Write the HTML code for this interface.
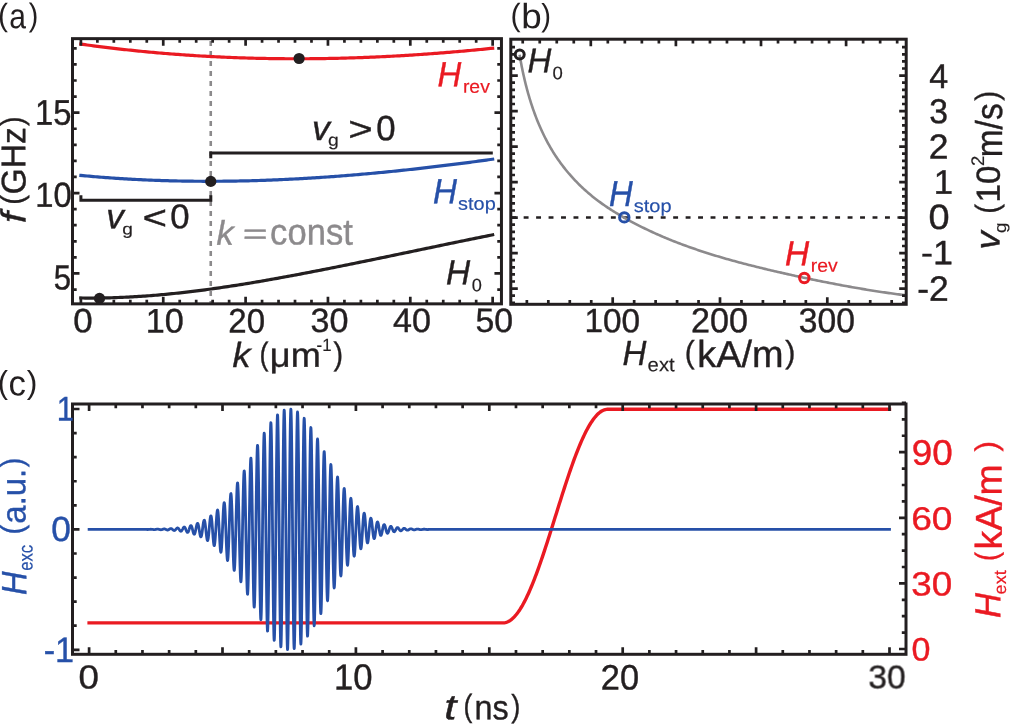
<!DOCTYPE html>
<html><head><meta charset="utf-8"><title>figure</title>
<style>html,body{margin:0;padding:0;background:#fff;width:1011px;height:724px;overflow:hidden;font-family:"Liberation Sans",sans-serif}</style>
</head><body>
<svg width="1011" height="724" viewBox="0 0 1011 724" style="position:absolute;left:0;top:0">
<rect width="1011" height="724" fill="#fff"/>
<line x1="210.75" y1="38.65" x2="210.75" y2="303.85" stroke="#8c8a8c" stroke-width="2.6" stroke-dasharray="5 5" stroke-dashoffset="-2.4"/>
<path d="M80.9 297.99 L82.97 298.01 L85.04 298.03 L87.11 298.05 L89.18 298.05 L91.25 298.06 L93.31 298.05 L95.38 298.04 L97.45 298.02 L99.52 298 L101.59 297.97 L103.66 297.93 L105.73 297.89 L107.8 297.84 L109.87 297.79 L111.94 297.73 L114.01 297.67 L116.07 297.6 L118.14 297.52 L120.21 297.44 L122.28 297.35 L124.35 297.26 L126.42 297.16 L128.49 297.06 L130.56 296.95 L132.63 296.83 L134.7 296.71 L136.77 296.59 L138.83 296.46 L140.9 296.32 L142.97 296.18 L145.04 296.03 L147.11 295.88 L149.18 295.73 L151.25 295.57 L153.32 295.4 L155.39 295.23 L157.46 295.05 L159.53 294.87 L161.59 294.69 L163.66 294.5 L165.73 294.31 L167.8 294.11 L169.87 293.9 L171.94 293.7 L174.01 293.49 L176.08 293.27 L178.15 293.05 L180.22 292.82 L182.29 292.59 L184.35 292.36 L186.42 292.12 L188.49 291.88 L190.56 291.64 L192.63 291.39 L194.7 291.13 L196.77 290.88 L198.84 290.62 L200.91 290.35 L202.98 290.08 L205.05 289.81 L207.11 289.53 L209.18 289.25 L211.25 288.97 L213.32 288.68 L215.39 288.39 L217.46 288.1 L219.53 287.8 L221.6 287.5 L223.67 287.2 L225.74 286.89 L227.81 286.58 L229.87 286.27 L231.94 285.95 L234.01 285.63 L236.08 285.31 L238.15 284.98 L240.22 284.66 L242.29 284.32 L244.36 283.99 L246.43 283.65 L248.5 283.31 L250.57 282.97 L252.63 282.63 L254.7 282.28 L256.77 281.93 L258.84 281.58 L260.91 281.22 L262.98 280.87 L265.05 280.51 L267.12 280.14 L269.19 279.78 L271.26 279.41 L273.33 279.04 L275.39 278.67 L277.46 278.3 L279.53 277.93 L281.6 277.55 L283.67 277.17 L285.74 276.79 L287.81 276.41 L289.88 276.02 L291.95 275.64 L294.02 275.25 L296.09 274.86 L298.16 274.47 L300.22 274.08 L302.29 273.68 L304.36 273.29 L306.43 272.89 L308.5 272.49 L310.57 272.1 L312.64 271.69 L314.71 271.29 L316.78 270.89 L318.85 270.49 L320.92 270.08 L322.98 269.67 L325.05 269.27 L327.12 268.86 L329.19 268.45 L331.26 268.04 L333.33 267.62 L335.4 267.21 L337.47 266.8 L339.54 266.38 L341.61 265.97 L343.68 265.55 L345.74 265.13 L347.81 264.71 L349.88 264.29 L351.95 263.87 L354.02 263.45 L356.09 263.03 L358.16 262.61 L360.23 262.19 L362.3 261.76 L364.37 261.34 L366.44 260.91 L368.5 260.49 L370.57 260.06 L372.64 259.63 L374.71 259.21 L376.78 258.78 L378.85 258.35 L380.92 257.92 L382.99 257.49 L385.06 257.06 L387.13 256.63 L389.2 256.2 L391.26 255.77 L393.33 255.34 L395.4 254.91 L397.47 254.48 L399.54 254.05 L401.61 253.62 L403.68 253.18 L405.75 252.75 L407.82 252.32 L409.89 251.89 L411.96 251.45 L414.02 251.02 L416.09 250.59 L418.16 250.16 L420.23 249.73 L422.3 249.29 L424.37 248.86 L426.44 248.43 L428.51 248 L430.58 247.57 L432.65 247.13 L434.72 246.7 L436.78 246.27 L438.85 245.84 L440.92 245.41 L442.99 244.98 L445.06 244.55 L447.13 244.12 L449.2 243.69 L451.27 243.26 L453.34 242.83 L455.41 242.41 L457.48 241.98 L459.54 241.55 L461.61 241.12 L463.68 240.7 L465.75 240.27 L467.82 239.85 L469.89 239.42 L471.96 239 L474.03 238.58 L476.1 238.16 L478.17 237.74 L480.24 237.32 L482.3 236.9 L484.37 236.48 L486.44 236.06 L488.51 235.64 L490.58 235.23 L492.65 234.81" fill="none" stroke="#231f20" stroke-width="3.2" stroke-linecap="square"/>
<path d="M80.9 175.44 L82.97 175.63 L85.04 175.82 L87.11 176.01 L89.18 176.2 L91.25 176.38 L93.31 176.55 L95.38 176.73 L97.45 176.9 L99.52 177.06 L101.59 177.23 L103.66 177.39 L105.73 177.54 L107.8 177.7 L109.87 177.85 L111.94 177.99 L114.01 178.14 L116.07 178.28 L118.14 178.41 L120.21 178.55 L122.28 178.68 L124.35 178.8 L126.42 178.93 L128.49 179.05 L130.56 179.16 L132.63 179.28 L134.7 179.39 L136.77 179.49 L138.83 179.6 L140.9 179.7 L142.97 179.8 L145.04 179.89 L147.11 179.98 L149.18 180.07 L151.25 180.15 L153.32 180.24 L155.39 180.31 L157.46 180.39 L159.53 180.46 L161.59 180.53 L163.66 180.6 L165.73 180.66 L167.8 180.72 L169.87 180.78 L171.94 180.83 L174.01 180.88 L176.08 180.93 L178.15 180.98 L180.22 181.02 L182.29 181.06 L184.35 181.09 L186.42 181.12 L188.49 181.15 L190.56 181.18 L192.63 181.21 L194.7 181.23 L196.77 181.24 L198.84 181.26 L200.91 181.27 L202.98 181.28 L205.05 181.29 L207.11 181.29 L209.18 181.29 L211.25 181.29 L213.32 181.29 L215.39 181.28 L217.46 181.27 L219.53 181.26 L221.6 181.24 L223.67 181.22 L225.74 181.2 L227.81 181.18 L229.87 181.15 L231.94 181.12 L234.01 181.09 L236.08 181.05 L238.15 181.01 L240.22 180.97 L242.29 180.93 L244.36 180.88 L246.43 180.84 L248.5 180.78 L250.57 180.73 L252.63 180.67 L254.7 180.61 L256.77 180.55 L258.84 180.49 L260.91 180.42 L262.98 180.35 L265.05 180.28 L267.12 180.21 L269.19 180.13 L271.26 180.05 L273.33 179.97 L275.39 179.88 L277.46 179.8 L279.53 179.71 L281.6 179.61 L283.67 179.52 L285.74 179.42 L287.81 179.32 L289.88 179.22 L291.95 179.12 L294.02 179.01 L296.09 178.9 L298.16 178.79 L300.22 178.68 L302.29 178.56 L304.36 178.44 L306.43 178.32 L308.5 178.2 L310.57 178.07 L312.64 177.95 L314.71 177.82 L316.78 177.68 L318.85 177.55 L320.92 177.41 L322.98 177.27 L325.05 177.13 L327.12 176.99 L329.19 176.84 L331.26 176.69 L333.33 176.54 L335.4 176.39 L337.47 176.24 L339.54 176.08 L341.61 175.92 L343.68 175.76 L345.74 175.6 L347.81 175.43 L349.88 175.26 L351.95 175.09 L354.02 174.92 L356.09 174.75 L358.16 174.57 L360.23 174.39 L362.3 174.21 L364.37 174.03 L366.44 173.85 L368.5 173.66 L370.57 173.47 L372.64 173.28 L374.71 173.09 L376.78 172.9 L378.85 172.7 L380.92 172.5 L382.99 172.3 L385.06 172.1 L387.13 171.9 L389.2 171.69 L391.26 171.48 L393.33 171.27 L395.4 171.06 L397.47 170.85 L399.54 170.63 L401.61 170.42 L403.68 170.2 L405.75 169.98 L407.82 169.76 L409.89 169.53 L411.96 169.31 L414.02 169.08 L416.09 168.85 L418.16 168.62 L420.23 168.38 L422.3 168.15 L424.37 167.91 L426.44 167.67 L428.51 167.43 L430.58 167.19 L432.65 166.95 L434.72 166.7 L436.78 166.46 L438.85 166.21 L440.92 165.96 L442.99 165.71 L445.06 165.45 L447.13 165.2 L449.2 164.94 L451.27 164.69 L453.34 164.43 L455.41 164.16 L457.48 163.9 L459.54 163.64 L461.61 163.37 L463.68 163.1 L465.75 162.84 L467.82 162.57 L469.89 162.29 L471.96 162.02 L474.03 161.75 L476.1 161.47 L478.17 161.19 L480.24 160.91 L482.3 160.63 L484.37 160.35 L486.44 160.07 L488.51 159.78 L490.58 159.5 L492.65 159.21" fill="none" stroke="#2650a8" stroke-width="3.2" stroke-linecap="square"/>
<path d="M80.9 44.12 L82.97 44.4 L85.04 44.69 L87.11 44.97 L89.18 45.25 L91.25 45.53 L93.31 45.8 L95.38 46.07 L97.45 46.34 L99.52 46.6 L101.59 46.86 L103.66 47.12 L105.73 47.38 L107.8 47.63 L109.87 47.88 L111.94 48.13 L114.01 48.37 L116.07 48.61 L118.14 48.85 L120.21 49.08 L122.28 49.31 L124.35 49.54 L126.42 49.77 L128.49 49.99 L130.56 50.21 L132.63 50.43 L134.7 50.64 L136.77 50.85 L138.83 51.06 L140.9 51.27 L142.97 51.47 L145.04 51.67 L147.11 51.87 L149.18 52.06 L151.25 52.25 L153.32 52.44 L155.39 52.62 L157.46 52.81 L159.53 52.99 L161.59 53.16 L163.66 53.34 L165.73 53.51 L167.8 53.67 L169.87 53.84 L171.94 54 L174.01 54.16 L176.08 54.32 L178.15 54.47 L180.22 54.62 L182.29 54.77 L184.35 54.92 L186.42 55.06 L188.49 55.2 L190.56 55.34 L192.63 55.47 L194.7 55.6 L196.77 55.73 L198.84 55.86 L200.91 55.98 L202.98 56.1 L205.05 56.22 L207.11 56.34 L209.18 56.45 L211.25 56.56 L213.32 56.67 L215.39 56.77 L217.46 56.87 L219.53 56.97 L221.6 57.07 L223.67 57.16 L225.74 57.25 L227.81 57.34 L229.87 57.42 L231.94 57.51 L234.01 57.59 L236.08 57.66 L238.15 57.74 L240.22 57.81 L242.29 57.88 L244.36 57.95 L246.43 58.01 L248.5 58.07 L250.57 58.13 L252.63 58.19 L254.7 58.24 L256.77 58.29 L258.84 58.34 L260.91 58.39 L262.98 58.43 L265.05 58.47 L267.12 58.51 L269.19 58.54 L271.26 58.58 L273.33 58.61 L275.39 58.63 L277.46 58.66 L279.53 58.68 L281.6 58.7 L283.67 58.72 L285.74 58.73 L287.81 58.75 L289.88 58.75 L291.95 58.76 L294.02 58.77 L296.09 58.77 L298.16 58.77 L300.22 58.77 L302.29 58.76 L304.36 58.75 L306.43 58.74 L308.5 58.73 L310.57 58.71 L312.64 58.7 L314.71 58.68 L316.78 58.65 L318.85 58.63 L320.92 58.6 L322.98 58.57 L325.05 58.54 L327.12 58.5 L329.19 58.47 L331.26 58.43 L333.33 58.38 L335.4 58.34 L337.47 58.29 L339.54 58.24 L341.61 58.19 L343.68 58.14 L345.74 58.08 L347.81 58.02 L349.88 57.96 L351.95 57.89 L354.02 57.83 L356.09 57.76 L358.16 57.69 L360.23 57.62 L362.3 57.54 L364.37 57.46 L366.44 57.38 L368.5 57.3 L370.57 57.21 L372.64 57.13 L374.71 57.04 L376.78 56.94 L378.85 56.85 L380.92 56.75 L382.99 56.65 L385.06 56.55 L387.13 56.45 L389.2 56.34 L391.26 56.23 L393.33 56.12 L395.4 56.01 L397.47 55.9 L399.54 55.78 L401.61 55.66 L403.68 55.54 L405.75 55.41 L407.82 55.29 L409.89 55.16 L411.96 55.03 L414.02 54.89 L416.09 54.76 L418.16 54.62 L420.23 54.48 L422.3 54.34 L424.37 54.2 L426.44 54.05 L428.51 53.9 L430.58 53.75 L432.65 53.6 L434.72 53.44 L436.78 53.28 L438.85 53.13 L440.92 52.96 L442.99 52.8 L445.06 52.63 L447.13 52.47 L449.2 52.3 L451.27 52.12 L453.34 51.95 L455.41 51.77 L457.48 51.59 L459.54 51.41 L461.61 51.23 L463.68 51.05 L465.75 50.86 L467.82 50.67 L469.89 50.48 L471.96 50.28 L474.03 50.09 L476.1 49.89 L478.17 49.69 L480.24 49.49 L482.3 49.29 L484.37 49.08 L486.44 48.87 L488.51 48.66 L490.58 48.45 L492.65 48.24" fill="none" stroke="#ea1a22" stroke-width="3.2" stroke-linecap="square"/>
<path d="M210.75 158.2 V153.1 H492.8" fill="none" stroke="#231f20" stroke-width="3"/>
<path d="M80.9 195.2 V200.3 H210.8 V195.2" fill="none" stroke="#231f20" stroke-width="3"/>
<circle cx="299.1" cy="58.5" r="5.6" fill="#231f20"/>
<circle cx="210.75" cy="181.4" r="5.6" fill="#231f20"/>
<circle cx="99.5" cy="298.4" r="5.6" fill="#231f20"/>
<rect x="72.5" y="38.65" width="428.95" height="265.2" fill="none" stroke="#231f20" stroke-width="3.0"/>
<path d="M80.9 303.85 V296.85 M163.25 303.85 V296.85 M245.6 303.85 V296.85 M327.95 303.85 V296.85 M410.3 303.85 V296.85 M492.65 303.85 V296.85 M97.37 303.85 V299.65 M113.84 303.85 V299.65 M130.31 303.85 V299.65 M146.78 303.85 V299.65 M179.72 303.85 V299.65 M196.19 303.85 V299.65 M212.66 303.85 V299.65 M229.13 303.85 V299.65 M262.07 303.85 V299.65 M278.54 303.85 V299.65 M295.01 303.85 V299.65 M311.48 303.85 V299.65 M344.42 303.85 V299.65 M360.89 303.85 V299.65 M377.36 303.85 V299.65 M393.83 303.85 V299.65 M426.77 303.85 V299.65 M443.24 303.85 V299.65 M459.71 303.85 V299.65 M476.18 303.85 V299.65" stroke="#231f20" stroke-width="2.7" fill="none"/>
<path d="M80.9 38.65 V45.65 M163.25 38.65 V45.65 M245.6 38.65 V45.65 M327.95 38.65 V45.65 M410.3 38.65 V45.65 M492.65 38.65 V45.65 M97.37 38.65 V42.85 M113.84 38.65 V42.85 M130.31 38.65 V42.85 M146.78 38.65 V42.85 M179.72 38.65 V42.85 M196.19 38.65 V42.85 M212.66 38.65 V42.85 M229.13 38.65 V42.85 M262.07 38.65 V42.85 M278.54 38.65 V42.85 M295.01 38.65 V42.85 M311.48 38.65 V42.85 M344.42 38.65 V42.85 M360.89 38.65 V42.85 M377.36 38.65 V42.85 M393.83 38.65 V42.85 M426.77 38.65 V42.85 M443.24 38.65 V42.85 M459.71 38.65 V42.85 M476.18 38.65 V42.85" stroke="#231f20" stroke-width="2.7" fill="none"/>
<path d="M72.5 273.45 H79.5 M72.5 193.05 H79.5 M72.5 112.65 H79.5 M72.5 289.53 H76.7 M72.5 257.37 H76.7 M72.5 241.29 H76.7 M72.5 225.21 H76.7 M72.5 209.13 H76.7 M72.5 176.97 H76.7 M72.5 160.89 H76.7 M72.5 144.81 H76.7 M72.5 128.73 H76.7 M72.5 96.57 H76.7 M72.5 80.49 H76.7 M72.5 64.41 H76.7 M72.5 48.33 H76.7" stroke="#231f20" stroke-width="2.7" fill="none"/>
<path d="M501.45 273.45 H494.45 M501.45 193.05 H494.45 M501.45 112.65 H494.45 M501.45 289.53 H497.25 M501.45 257.37 H497.25 M501.45 241.29 H497.25 M501.45 225.21 H497.25 M501.45 209.13 H497.25 M501.45 176.97 H497.25 M501.45 160.89 H497.25 M501.45 144.81 H497.25 M501.45 128.73 H497.25 M501.45 96.57 H497.25 M501.45 80.49 H497.25 M501.45 64.41 H497.25 M501.45 48.33 H497.25" stroke="#231f20" stroke-width="2.7" fill="none"/>
<line x1="510.8" y1="217.5" x2="906.2" y2="217.5" stroke="#231f20" stroke-width="2.6" stroke-dasharray="4.9 7.56" stroke-dashoffset="-0.4"/>
<path d="M519.6 54.75 L519.86 56.33 L520.14 57.92 L520.42 59.51 L520.71 61.1 L521.01 62.69 L521.31 64.28 L521.62 65.88 L521.93 67.47 L522.26 69.07 L522.59 70.67 L522.93 72.27 L523.27 73.87 L523.63 75.46 L523.99 77.06 L524.35 78.66 L524.73 80.26 L525.11 81.86 L525.51 83.46 L525.91 85.06 L526.32 86.65 L526.73 88.25 L527.16 89.84 L527.59 91.43 L528.04 93.03 L528.49 94.62 L528.95 96.2 L529.42 97.79 L529.9 99.37 L530.38 100.95 L530.88 102.53 L531.39 104.11 L531.9 105.68 L532.43 107.25 L532.96 108.81 L533.51 110.38 L534.06 111.94 L534.63 113.49 L535.2 115.04 L535.79 116.59 L536.38 118.13 L536.99 119.67 L537.6 121.21 L538.23 122.74 L538.87 124.26 L539.52 125.78 L540.18 127.29 L540.85 128.8 L541.53 130.3 L542.22 131.8 L542.93 133.29 L543.64 134.78 L544.37 136.26 L545.11 137.73 L545.86 139.19 L546.62 140.65 L547.4 142.1 L548.18 143.55 L548.98 144.99 L549.79 146.42 L550.62 147.84 L551.45 149.25 L552.3 150.66 L553.16 152.06 L554.04 153.45 L554.92 154.83 L555.82 156.2 L556.73 157.56 L557.66 158.92 L558.6 160.27 L559.55 161.6 L560.51 162.93 L561.48 164.25 L562.47 165.56 L563.47 166.86 L564.48 168.15 L565.5 169.44 L566.54 170.71 L567.58 171.97 L568.64 173.23 L569.71 174.47 L570.79 175.7 L571.88 176.93 L572.99 178.14 L574.1 179.35 L575.23 180.54 L576.36 181.72 L577.51 182.9 L578.67 184.06 L579.84 185.21 L581.02 186.35 L582.21 187.48 L583.41 188.6 L584.62 189.71 L585.84 190.81 L587.07 191.9 L588.31 192.97 L589.56 194.04 L590.83 195.09 L592.1 196.14 L593.38 197.17 L594.67 198.19 L595.97 199.2 L597.28 200.19 L598.6 201.18 L599.92 202.16 L601.26 203.12 L602.6 204.08 L603.95 205.02 L605.31 205.96 L606.67 206.88 L608.04 207.8 L609.42 208.7 L610.8 209.6 L612.19 210.48 L613.59 211.36 L614.99 212.23 L616.39 213.09 L617.8 213.95 L619.22 214.79 L620.64 215.63 L622.06 216.46 L623.49 217.28 L624.91 218.09 L626.35 218.9 L627.78 219.7 L629.22 220.49 L630.66 221.27 L632.11 222.05 L633.56 222.82 L635.01 223.59 L636.46 224.34 L637.92 225.09 L639.38 225.84 L640.84 226.57 L642.31 227.3 L643.77 228.03 L645.25 228.74 L646.72 229.45 L648.2 230.16 L649.68 230.86 L651.16 231.55 L652.64 232.23 L654.13 232.91 L655.62 233.58 L657.11 234.25 L658.61 234.91 L660.1 235.56 L661.6 236.21 L663.11 236.86 L664.61 237.49 L666.12 238.12 L667.63 238.75 L669.14 239.37 L670.66 239.98 L672.17 240.59 L673.69 241.2 L675.21 241.79 L676.74 242.39 L678.26 242.97 L679.79 243.56 L681.32 244.13 L682.85 244.7 L684.39 245.27 L685.93 245.83 L687.46 246.39 L689.01 246.94 L690.55 247.49 L692.09 248.03 L693.64 248.57 L695.19 249.1 L696.74 249.63 L698.29 250.16 L699.85 250.68 L701.4 251.19 L702.96 251.7 L704.52 252.21 L706.08 252.71 L707.65 253.21 L709.21 253.7 L710.78 254.19 L712.35 254.68 L713.92 255.16 L715.49 255.64 L717.06 256.12 L718.64 256.59 L720.21 257.05 L721.79 257.52 L723.37 257.98 L724.95 258.43 L726.53 258.89 L728.12 259.34 L729.7 259.78 L731.29 260.22 L732.88 260.66 L734.47 261.1 L736.06 261.53 L737.65 261.96 L739.24 262.39 L740.83 262.82 L742.43 263.24 L744.03 263.66 L745.62 264.07 L747.22 264.49 L748.82 264.9 L750.42 265.3 L752.02 265.71 L753.63 266.11 L755.23 266.51 L756.83 266.91 L758.44 267.31 L760.05 267.7 L761.65 268.09 L763.26 268.48 L764.87 268.87 L766.48 269.25 L768.09 269.64 L769.7 270.02 L771.31 270.4 L772.93 270.78 L774.54 271.15 L776.15 271.53 L777.77 271.9 L779.38 272.27 L781 272.64 L782.62 273.01 L784.23 273.38 L785.85 273.74 L787.47 274.11 L789.09 274.47 L790.7 274.83 L792.32 275.19 L793.94 275.54 L795.56 275.9 L797.18 276.26 L798.8 276.61 L800.42 276.96 L802.04 277.31 L803.66 277.66 L805.29 278 L806.91 278.34 L808.53 278.69 L810.15 279.03 L811.77 279.37 L813.39 279.7 L815.01 280.04 L816.64 280.37 L818.26 280.7 L819.88 281.03 L821.5 281.36 L823.12 281.68 L824.74 282.01 L826.36 282.33 L827.98 282.65 L829.61 282.96 L831.23 283.28 L832.85 283.59 L834.47 283.9 L836.09 284.21 L837.7 284.52 L839.32 284.82 L840.94 285.13 L842.56 285.43 L844.18 285.73 L845.79 286.02 L847.41 286.32 L849.03 286.61 L850.64 286.9 L852.26 287.18 L853.87 287.47 L855.49 287.75 L857.1 288.03 L858.71 288.31 L860.32 288.58 L861.93 288.85 L863.54 289.12 L865.15 289.39 L866.76 289.66 L868.37 289.92 L869.98 290.18 L871.58 290.44 L873.19 290.69 L874.79 290.95 L876.4 291.2 L878 291.44 L879.6 291.69 L881.2 291.93 L882.8 292.17 L884.4 292.41 L886 292.64 L887.59 292.87 L889.19 293.1 L890.78 293.33 L892.37 293.55 L893.96 293.77 L895.55 293.99 L897.14 294.2 L898.73 294.41 L900.32 294.62 L901.9 294.83 L906.2 295.39" fill="none" stroke="#8c8a8c" stroke-width="2.6"/>
<circle cx="519.7" cy="54.6" r="4.5" fill="none" stroke="#231f20" stroke-width="3"/>
<circle cx="624.3" cy="217.4" r="4.7" fill="none" stroke="#2650a8" stroke-width="3"/>
<circle cx="804.3" cy="278.0" r="4.7" fill="none" stroke="#ea1a22" stroke-width="3"/>
<rect x="510.8" y="39.2" width="395.4" height="265.1" fill="none" stroke="#231f20" stroke-width="3.0"/>
<path d="M612.7 304.3 V297.3 M720 304.3 V297.3 M827.3 304.3 V297.3 M526.86 304.3 V300.1 M548.32 304.3 V300.1 M569.78 304.3 V300.1 M591.24 304.3 V300.1 M634.16 304.3 V300.1 M655.62 304.3 V300.1 M677.08 304.3 V300.1 M698.54 304.3 V300.1 M741.46 304.3 V300.1 M762.92 304.3 V300.1 M784.38 304.3 V300.1 M805.84 304.3 V300.1 M848.76 304.3 V300.1 M870.22 304.3 V300.1 M891.68 304.3 V300.1" stroke="#231f20" stroke-width="2.7" fill="none"/>
<path d="M590.8 39.2 V46.2 M675.9 39.2 V46.2 M761 39.2 V46.2 M846.1 39.2 V46.2 M522.72 39.2 V43.4 M539.74 39.2 V43.4 M556.76 39.2 V43.4 M573.78 39.2 V43.4 M607.82 39.2 V43.4 M624.84 39.2 V43.4 M641.86 39.2 V43.4 M658.88 39.2 V43.4 M692.92 39.2 V43.4 M709.94 39.2 V43.4 M726.96 39.2 V43.4 M743.98 39.2 V43.4 M778.02 39.2 V43.4 M795.04 39.2 V43.4 M812.06 39.2 V43.4 M829.08 39.2 V43.4 M863.12 39.2 V43.4 M880.14 39.2 V43.4 M897.16 39.2 V43.4" stroke="#231f20" stroke-width="2.7" fill="none"/>
<path d="M510.8 288.6 H517.8 M510.8 253.1 H517.8 M510.8 217.6 H517.8 M510.8 182.1 H517.8 M510.8 146.6 H517.8 M510.8 111.1 H517.8 M510.8 75.6 H517.8 M510.8 302.8 H515 M510.8 295.7 H515 M510.8 281.5 H515 M510.8 274.4 H515 M510.8 267.3 H515 M510.8 260.2 H515 M510.8 246 H515 M510.8 238.9 H515 M510.8 231.8 H515 M510.8 224.7 H515 M510.8 210.5 H515 M510.8 203.4 H515 M510.8 196.3 H515 M510.8 189.2 H515 M510.8 175 H515 M510.8 167.9 H515 M510.8 160.8 H515 M510.8 153.7 H515 M510.8 139.5 H515 M510.8 132.4 H515 M510.8 125.3 H515 M510.8 118.2 H515 M510.8 104 H515 M510.8 96.9 H515 M510.8 89.8 H515 M510.8 82.7 H515 M510.8 68.5 H515 M510.8 61.4 H515 M510.8 54.3 H515 M510.8 47.2 H515" stroke="#231f20" stroke-width="2.7" fill="none"/>
<path d="M906.2 288.6 H899.2 M906.2 253.1 H899.2 M906.2 217.6 H899.2 M906.2 182.1 H899.2 M906.2 146.6 H899.2 M906.2 111.1 H899.2 M906.2 75.6 H899.2 M906.2 302.8 H902 M906.2 295.7 H902 M906.2 281.5 H902 M906.2 274.4 H902 M906.2 267.3 H902 M906.2 260.2 H902 M906.2 246 H902 M906.2 238.9 H902 M906.2 231.8 H902 M906.2 224.7 H902 M906.2 210.5 H902 M906.2 203.4 H902 M906.2 196.3 H902 M906.2 189.2 H902 M906.2 175 H902 M906.2 167.9 H902 M906.2 160.8 H902 M906.2 153.7 H902 M906.2 139.5 H902 M906.2 132.4 H902 M906.2 125.3 H902 M906.2 118.2 H902 M906.2 104 H902 M906.2 96.9 H902 M906.2 89.8 H902 M906.2 82.7 H902 M906.2 68.5 H902 M906.2 61.4 H902 M906.2 54.3 H902 M906.2 47.2 H902" stroke="#231f20" stroke-width="2.7" fill="none"/>
<path d="M89.1 622.9 L502.31 622.9 L503.31 622.9 L504.31 622.82 L505.31 622.65 L506.31 622.38 L507.31 622.01 L508.31 621.55 L509.31 621 L510.31 620.35 L511.31 619.61 L512.31 618.78 L513.31 617.85 L514.31 616.84 L515.31 615.73 L516.31 614.53 L517.31 613.25 L518.31 611.88 L519.31 610.42 L520.32 608.88 L521.32 607.25 L522.32 605.55 L523.32 603.76 L524.32 601.89 L525.32 599.95 L526.32 597.93 L527.32 595.84 L528.32 593.68 L529.32 591.45 L530.32 589.15 L531.32 586.78 L532.32 584.35 L533.32 581.86 L534.32 579.31 L535.32 576.71 L536.32 574.05 L537.32 571.34 L538.32 568.57 L539.32 565.77 L540.33 562.91 L541.33 560.02 L542.33 557.08 L543.33 554.11 L544.33 551.11 L545.33 548.07 L546.33 545 L547.33 541.91 L548.33 538.8 L549.33 535.66 L550.33 532.51 L551.33 529.34 L552.33 526.16 L553.33 522.98 L554.33 519.78 L555.33 516.58 L556.33 513.39 L557.33 510.19 L558.33 507 L559.33 503.82 L560.34 500.65 L561.34 497.49 L562.34 494.35 L563.34 491.22 L564.34 488.13 L565.34 485.05 L566.34 482 L567.34 478.99 L568.34 476.01 L569.34 473.06 L570.34 470.15 L571.34 467.28 L572.34 464.46 L573.34 461.68 L574.34 458.95 L575.34 456.27 L576.34 453.65 L577.34 451.08 L578.34 448.57 L579.34 446.12 L580.35 443.74 L581.35 441.41 L582.35 439.16 L583.35 436.97 L584.35 434.86 L585.35 432.82 L586.35 430.85 L587.35 428.96 L588.35 427.14 L589.35 425.41 L590.35 423.76 L591.35 422.19 L592.35 420.7 L593.35 419.3 L594.35 417.98 L595.35 416.76 L596.35 415.62 L597.35 414.57 L598.35 413.62 L599.36 412.75 L600.36 411.98 L601.36 411.3 L602.36 410.72 L603.36 410.23 L604.36 409.83 L605.36 409.53 L606.36 409.33 L607.36 409.22 L608.36 409.2 L889.5 409.2" fill="none" stroke="#ea1a22" stroke-width="3.4" stroke-linecap="square"/>
<path d="M89.1 529.4 L89.23 529.4 L89.37 529.4 L89.5 529.4 L89.63 529.4 L89.77 529.4 L89.9 529.4 L90.03 529.4 L90.17 529.4 L90.3 529.4 L90.43 529.4 L90.57 529.4 L90.7 529.4 L90.83 529.4 L90.97 529.4 L91.1 529.4 L91.23 529.4 L91.37 529.4 L91.5 529.4 L91.64 529.4 L91.77 529.4 L91.9 529.4 L92.04 529.4 L92.17 529.4 L92.3 529.4 L92.44 529.4 L92.57 529.4 L92.7 529.4 L92.84 529.4 L92.97 529.4 L93.1 529.4 L93.24 529.4 L93.37 529.4 L93.5 529.4 L93.64 529.4 L93.77 529.4 L93.9 529.4 L94.04 529.4 L94.17 529.4 L94.3 529.4 L94.44 529.4 L94.57 529.4 L94.7 529.4 L94.84 529.4 L94.97 529.4 L95.1 529.4 L95.24 529.4 L95.37 529.4 L95.5 529.4 L95.64 529.4 L95.77 529.4 L95.9 529.4 L96.04 529.4 L96.17 529.4 L96.3 529.4 L96.44 529.4 L96.57 529.4 L96.71 529.4 L96.84 529.4 L96.97 529.4 L97.11 529.4 L97.24 529.4 L97.37 529.4 L97.51 529.4 L97.64 529.4 L97.77 529.4 L97.91 529.4 L98.04 529.4 L98.17 529.4 L98.31 529.4 L98.44 529.4 L98.57 529.4 L98.71 529.4 L98.84 529.4 L98.97 529.4 L99.11 529.4 L99.24 529.4 L99.37 529.4 L99.51 529.4 L99.64 529.4 L99.77 529.4 L99.91 529.4 L100.04 529.4 L100.17 529.4 L100.31 529.4 L100.44 529.4 L100.57 529.4 L100.71 529.4 L100.84 529.4 L100.97 529.4 L101.11 529.4 L101.24 529.4 L101.37 529.4 L101.51 529.4 L101.64 529.4 L101.78 529.4 L101.91 529.4 L102.04 529.4 L102.18 529.4 L102.31 529.4 L102.44 529.4 L102.58 529.4 L102.71 529.4 L102.84 529.4 L102.98 529.4 L103.11 529.4 L103.24 529.4 L103.38 529.4 L103.51 529.4 L103.64 529.4 L103.78 529.4 L103.91 529.4 L104.04 529.4 L104.18 529.4 L104.31 529.4 L104.44 529.4 L104.58 529.4 L104.71 529.4 L104.84 529.4 L104.98 529.4 L105.11 529.4 L105.24 529.4 L105.38 529.4 L105.51 529.4 L105.64 529.4 L105.78 529.4 L105.91 529.4 L106.04 529.4 L106.18 529.4 L106.31 529.4 L106.44 529.4 L106.58 529.4 L106.71 529.4 L106.85 529.4 L106.98 529.4 L107.11 529.4 L107.25 529.4 L107.38 529.4 L107.51 529.4 L107.65 529.4 L107.78 529.4 L107.91 529.4 L108.05 529.4 L108.18 529.4 L108.31 529.4 L108.45 529.4 L108.58 529.4 L108.71 529.4 L108.85 529.4 L108.98 529.4 L109.11 529.4 L109.25 529.4 L109.38 529.4 L109.51 529.4 L109.65 529.4 L109.78 529.4 L109.91 529.4 L110.05 529.4 L110.18 529.4 L110.31 529.4 L110.45 529.4 L110.58 529.4 L110.71 529.4 L110.85 529.4 L110.98 529.4 L111.11 529.4 L111.25 529.4 L111.38 529.4 L111.51 529.4 L111.65 529.4 L111.78 529.4 L111.92 529.4 L112.05 529.4 L112.18 529.4 L112.32 529.4 L112.45 529.4 L112.58 529.4 L112.72 529.4 L112.85 529.4 L112.98 529.4 L113.12 529.4 L113.25 529.4 L113.38 529.4 L113.52 529.4 L113.65 529.4 L113.78 529.4 L113.92 529.4 L114.05 529.4 L114.18 529.4 L114.32 529.4 L114.45 529.4 L114.58 529.4 L114.72 529.4 L114.85 529.4 L114.98 529.4 L115.12 529.4 L115.25 529.4 L115.38 529.4 L115.52 529.4 L115.65 529.4 L115.78 529.4 L115.92 529.4 L116.05 529.4 L116.18 529.4 L116.32 529.4 L116.45 529.4 L116.58 529.4 L116.72 529.4 L116.85 529.4 L116.99 529.4 L117.12 529.4 L117.25 529.4 L117.39 529.4 L117.52 529.4 L117.65 529.4 L117.79 529.4 L117.92 529.4 L118.05 529.4 L118.19 529.4 L118.32 529.4 L118.45 529.4 L118.59 529.4 L118.72 529.4 L118.85 529.4 L118.99 529.4 L119.12 529.4 L119.25 529.4 L119.39 529.4 L119.52 529.4 L119.65 529.4 L119.79 529.4 L119.92 529.4 L120.05 529.4 L120.19 529.4 L120.32 529.4 L120.45 529.4 L120.59 529.4 L120.72 529.4 L120.85 529.41 L120.99 529.41 L121.12 529.4 L121.25 529.4 L121.39 529.4 L121.52 529.4 L121.66 529.4 L121.79 529.4 L121.92 529.4 L122.06 529.4 L122.19 529.4 L122.32 529.4 L122.46 529.4 L122.59 529.4 L122.72 529.4 L122.86 529.4 L122.99 529.4 L123.12 529.4 L123.26 529.4 L123.39 529.39 L123.52 529.39 L123.66 529.39 L123.79 529.39 L123.92 529.39 L124.06 529.39 L124.19 529.39 L124.32 529.39 L124.46 529.39 L124.59 529.39 L124.72 529.39 L124.86 529.39 L124.99 529.39 L125.12 529.4 L125.26 529.4 L125.39 529.4 L125.52 529.4 L125.66 529.4 L125.79 529.4 L125.92 529.4 L126.06 529.4 L126.19 529.4 L126.32 529.4 L126.46 529.41 L126.59 529.41 L126.73 529.41 L126.86 529.41 L126.99 529.41 L127.13 529.41 L127.26 529.41 L127.39 529.41 L127.53 529.41 L127.66 529.41 L127.79 529.41 L127.93 529.41 L128.06 529.41 L128.19 529.41 L128.33 529.41 L128.46 529.41 L128.59 529.41 L128.73 529.4 L128.86 529.4 L128.99 529.4 L129.13 529.4 L129.26 529.4 L129.39 529.4 L129.53 529.39 L129.66 529.39 L129.79 529.39 L129.93 529.39 L130.06 529.39 L130.19 529.39 L130.33 529.39 L130.46 529.39 L130.59 529.38 L130.73 529.38 L130.86 529.38 L130.99 529.38 L131.13 529.38 L131.26 529.38 L131.39 529.39 L131.53 529.39 L131.66 529.39 L131.8 529.39 L131.93 529.39 L132.06 529.39 L132.2 529.4 L132.33 529.4 L132.46 529.4 L132.6 529.4 L132.73 529.41 L132.86 529.41 L133 529.41 L133.13 529.41 L133.26 529.41 L133.4 529.42 L133.53 529.42 L133.66 529.42 L133.8 529.42 L133.93 529.42 L134.06 529.42 L134.2 529.42 L134.33 529.42 L134.46 529.42 L134.6 529.42 L134.73 529.42 L134.86 529.42 L135 529.42 L135.13 529.42 L135.26 529.41 L135.4 529.41 L135.53 529.41 L135.66 529.4 L135.8 529.4 L135.93 529.4 L136.06 529.39 L136.2 529.39 L136.33 529.39 L136.46 529.38 L136.6 529.38 L136.73 529.38 L136.87 529.37 L137 529.37 L137.13 529.37 L137.27 529.37 L137.4 529.37 L137.53 529.37 L137.67 529.37 L137.8 529.37 L137.93 529.37 L138.07 529.37 L138.2 529.37 L138.33 529.38 L138.47 529.38 L138.6 529.38 L138.73 529.39 L138.87 529.39 L139 529.4 L139.13 529.4 L139.27 529.41 L139.4 529.41 L139.53 529.42 L139.67 529.42 L139.8 529.43 L139.93 529.43 L140.07 529.43 L140.2 529.44 L140.33 529.44 L140.47 529.44 L140.6 529.45 L140.73 529.45 L140.87 529.45 L141 529.45 L141.13 529.45 L141.27 529.45 L141.4 529.44 L141.53 529.44 L141.67 529.44 L141.8 529.43 L141.94 529.43 L142.07 529.42 L142.2 529.41 L142.34 529.41 L142.47 529.4 L142.6 529.39 L142.74 529.39 L142.87 529.38 L143 529.37 L143.14 529.36 L143.27 529.36 L143.4 529.35 L143.54 529.35 L143.67 529.34 L143.8 529.34 L143.94 529.34 L144.07 529.33 L144.2 529.33 L144.34 529.33 L144.47 529.33 L144.6 529.34 L144.74 529.34 L144.87 529.34 L145 529.35 L145.14 529.36 L145.27 529.36 L145.4 529.37 L145.54 529.38 L145.67 529.39 L145.8 529.4 L145.94 529.41 L146.07 529.42 L146.2 529.43 L146.34 529.44 L146.47 529.45 L146.6 529.46 L146.74 529.47 L146.87 529.48 L147.01 529.48 L147.14 529.49 L147.27 529.49 L147.41 529.49 L147.54 529.5 L147.67 529.49 L147.81 529.49 L147.94 529.49 L148.07 529.48 L148.21 529.48 L148.34 529.47 L148.47 529.46 L148.61 529.45 L148.74 529.44 L148.87 529.43 L149.01 529.41 L149.14 529.4 L149.27 529.38 L149.41 529.37 L149.54 529.36 L149.67 529.34 L149.81 529.33 L149.94 529.32 L150.07 529.3 L150.21 529.29 L150.34 529.29 L150.47 529.28 L150.61 529.27 L150.74 529.27 L150.87 529.27 L151.01 529.27 L151.14 529.27 L151.27 529.28 L151.41 529.28 L151.54 529.29 L151.68 529.3 L151.81 529.32 L151.94 529.33 L152.08 529.35 L152.21 529.36 L152.34 529.38 L152.48 529.4 L152.61 529.42 L152.74 529.44 L152.88 529.46 L153.01 529.48 L153.14 529.5 L153.28 529.52 L153.41 529.53 L153.54 529.55 L153.68 529.56 L153.81 529.57 L153.94 529.58 L154.08 529.58 L154.21 529.58 L154.34 529.58 L154.48 529.58 L154.61 529.57 L154.74 529.56 L154.88 529.55 L155.01 529.53 L155.14 529.52 L155.28 529.5 L155.41 529.47 L155.54 529.45 L155.68 529.42 L155.81 529.4 L155.94 529.37 L156.08 529.34 L156.21 529.32 L156.34 529.29 L156.48 529.26 L156.61 529.24 L156.75 529.22 L156.88 529.2 L157.01 529.18 L157.15 529.17 L157.28 529.16 L157.41 529.15 L157.55 529.15 L157.68 529.15 L157.81 529.15 L157.95 529.16 L158.08 529.18 L158.21 529.19 L158.35 529.22 L158.48 529.24 L158.61 529.27 L158.75 529.3 L158.88 529.33 L159.01 529.37 L159.15 529.4 L159.28 529.44 L159.41 529.48 L159.55 529.52 L159.68 529.55 L159.81 529.59 L159.95 529.62 L160.08 529.65 L160.21 529.67 L160.35 529.7 L160.48 529.72 L160.61 529.73 L160.75 529.74 L160.88 529.74 L161.01 529.74 L161.15 529.73 L161.28 529.72 L161.41 529.7 L161.55 529.68 L161.68 529.65 L161.82 529.62 L161.95 529.58 L162.08 529.54 L162.22 529.49 L162.35 529.44 L162.48 529.4 L162.62 529.34 L162.75 529.29 L162.88 529.24 L163.02 529.19 L163.15 529.15 L163.28 529.1 L163.42 529.06 L163.55 529.03 L163.68 529 L163.82 528.97 L163.95 528.95 L164.08 528.94 L164.22 528.94 L164.35 528.94 L164.48 528.95 L164.62 528.97 L164.75 528.99 L164.88 529.02 L165.02 529.06 L165.15 529.11 L165.28 529.16 L165.42 529.22 L165.55 529.28 L165.68 529.34 L165.82 529.41 L165.95 529.47 L166.08 529.54 L166.22 529.61 L166.35 529.68 L166.48 529.74 L166.62 529.8 L166.75 529.85 L166.89 529.9 L167.02 529.94 L167.15 529.97 L167.29 530 L167.42 530.01 L167.55 530.02 L167.69 530.02 L167.82 530 L167.95 529.98 L168.09 529.95 L168.22 529.9 L168.35 529.85 L168.49 529.79 L168.62 529.72 L168.75 529.65 L168.89 529.57 L169.02 529.48 L169.15 529.39 L169.29 529.3 L169.42 529.21 L169.55 529.12 L169.69 529.03 L169.82 528.95 L169.95 528.87 L170.09 528.8 L170.22 528.73 L170.35 528.68 L170.49 528.64 L170.62 528.6 L170.75 528.58 L170.89 528.58 L171.02 528.58 L171.15 528.6 L171.29 528.63 L171.42 528.68 L171.55 528.73 L171.69 528.8 L171.82 528.88 L171.96 528.97 L172.09 529.07 L172.22 529.18 L172.36 529.29 L172.49 529.41 L172.62 529.53 L172.76 529.65 L172.89 529.77 L173.02 529.89 L173.16 530 L173.29 530.1 L173.42 530.2 L173.56 530.28 L173.69 530.35 L173.82 530.41 L173.96 530.45 L174.09 530.48 L174.22 530.49 L174.36 530.48 L174.49 530.46 L174.62 530.41 L174.76 530.35 L174.89 530.28 L175.02 530.19 L175.16 530.08 L175.29 529.96 L175.42 529.83 L175.56 529.69 L175.69 529.54 L175.82 529.38 L175.96 529.23 L176.09 529.07 L176.22 528.91 L176.36 528.76 L176.49 528.62 L176.62 528.48 L176.76 528.36 L176.89 528.25 L177.03 528.15 L177.16 528.08 L177.29 528.02 L177.43 527.99 L177.56 527.98 L177.69 527.99 L177.83 528.02 L177.96 528.08 L178.09 528.15 L178.23 528.25 L178.36 528.37 L178.49 528.51 L178.63 528.67 L178.76 528.84 L178.89 529.03 L179.03 529.22 L179.16 529.42 L179.29 529.63 L179.43 529.83 L179.56 530.04 L179.69 530.23 L179.83 530.42 L179.96 530.6 L180.09 530.76 L180.23 530.9 L180.36 531.02 L180.49 531.12 L180.63 531.19 L180.76 531.23 L180.89 531.25 L181.03 531.23 L181.16 531.19 L181.29 531.12 L181.43 531.02 L181.56 530.88 L181.7 530.73 L181.83 530.55 L181.96 530.34 L182.1 530.12 L182.23 529.88 L182.36 529.63 L182.5 529.37 L182.63 529.1 L182.76 528.84 L182.9 528.58 L183.03 528.32 L183.16 528.08 L183.3 527.85 L183.43 527.65 L183.56 527.47 L183.7 527.31 L183.83 527.19 L183.96 527.1 L184.1 527.04 L184.23 527.02 L184.36 527.04 L184.5 527.1 L184.63 527.19 L184.76 527.32 L184.9 527.49 L185.03 527.69 L185.16 527.93 L185.3 528.19 L185.43 528.48 L185.56 528.78 L185.7 529.11 L185.83 529.44 L185.96 529.78 L186.1 530.12 L186.23 530.46 L186.36 530.78 L186.5 531.09 L186.63 531.38 L186.77 531.65 L186.9 531.88 L187.03 532.07 L187.17 532.23 L187.3 532.35 L187.43 532.42 L187.57 532.44 L187.7 532.42 L187.83 532.34 L187.97 532.22 L188.1 532.05 L188.23 531.83 L188.37 531.58 L188.5 531.28 L188.63 530.94 L188.77 530.58 L188.9 530.18 L189.03 529.77 L189.17 529.35 L189.3 528.91 L189.43 528.48 L189.57 528.05 L189.7 527.64 L189.83 527.25 L189.97 526.88 L190.1 526.55 L190.23 526.25 L190.37 526 L190.5 525.81 L190.63 525.66 L190.77 525.57 L190.9 525.54 L191.03 525.58 L191.17 525.67 L191.3 525.83 L191.43 526.05 L191.57 526.32 L191.7 526.65 L191.84 527.03 L191.97 527.45 L192.1 527.92 L192.24 528.41 L192.37 528.93 L192.5 529.47 L192.64 530.02 L192.77 530.56 L192.9 531.1 L193.04 531.62 L193.17 532.12 L193.3 532.58 L193.44 533 L193.57 533.37 L193.7 533.68 L193.84 533.93 L193.97 534.11 L194.1 534.22 L194.24 534.25 L194.37 534.21 L194.5 534.08 L194.64 533.89 L194.77 533.61 L194.9 533.27 L195.04 532.85 L195.17 532.37 L195.3 531.84 L195.44 531.26 L195.57 530.64 L195.7 529.98 L195.84 529.31 L195.97 528.62 L196.1 527.94 L196.24 527.27 L196.37 526.61 L196.5 526 L196.64 525.42 L196.77 524.9 L196.91 524.44 L197.04 524.05 L197.17 523.75 L197.31 523.52 L197.44 523.39 L197.57 523.35 L197.71 523.41 L197.84 523.56 L197.97 523.81 L198.11 524.15 L198.24 524.59 L198.37 525.1 L198.51 525.7 L198.64 526.36 L198.77 527.09 L198.91 527.86 L199.04 528.68 L199.17 529.52 L199.31 530.37 L199.44 531.22 L199.57 532.05 L199.71 532.86 L199.84 533.63 L199.97 534.34 L200.11 534.98 L200.24 535.55 L200.37 536.03 L200.51 536.41 L200.64 536.68 L200.77 536.84 L200.91 536.89 L201.04 536.82 L201.17 536.63 L201.31 536.31 L201.44 535.89 L201.57 535.35 L201.71 534.71 L201.84 533.97 L201.98 533.14 L202.11 532.25 L202.24 531.29 L202.38 530.29 L202.51 529.25 L202.64 528.2 L202.78 527.16 L202.91 526.13 L203.04 525.13 L203.18 524.19 L203.31 523.32 L203.44 522.53 L203.58 521.83 L203.71 521.25 L203.84 520.78 L203.98 520.45 L204.11 520.25 L204.24 520.2 L204.38 520.29 L204.51 520.53 L204.64 520.92 L204.78 521.45 L204.91 522.11 L205.04 522.9 L205.18 523.81 L205.31 524.82 L205.44 525.92 L205.58 527.09 L205.71 528.32 L205.84 529.59 L205.98 530.87 L206.11 532.15 L206.24 533.41 L206.38 534.62 L206.51 535.77 L206.64 536.83 L206.78 537.8 L206.91 538.64 L207.05 539.35 L207.18 539.91 L207.31 540.32 L207.45 540.55 L207.58 540.61 L207.71 540.49 L207.85 540.2 L207.98 539.72 L208.11 539.08 L208.25 538.27 L208.38 537.3 L208.51 536.2 L208.65 534.97 L208.78 533.63 L208.91 532.2 L209.05 530.71 L209.18 529.17 L209.31 527.61 L209.45 526.06 L209.58 524.53 L209.71 523.07 L209.85 521.68 L209.98 520.39 L210.11 519.22 L210.25 518.21 L210.38 517.35 L210.51 516.68 L210.65 516.19 L210.78 515.91 L210.91 515.85 L211.05 515.99 L211.18 516.36 L211.31 516.93 L211.45 517.72 L211.58 518.7 L211.72 519.87 L211.85 521.21 L211.98 522.69 L212.12 524.31 L212.25 526.03 L212.38 527.84 L212.52 529.69 L212.65 531.56 L212.78 533.43 L212.92 535.26 L213.05 537.03 L213.18 538.69 L213.32 540.24 L213.45 541.63 L213.58 542.85 L213.72 543.87 L213.85 544.68 L213.98 545.25 L214.12 545.58 L214.25 545.66 L214.38 545.47 L214.52 545.03 L214.65 544.33 L214.78 543.39 L214.92 542.21 L215.05 540.8 L215.18 539.2 L215.32 537.41 L215.45 535.48 L215.58 533.42 L215.72 531.26 L215.85 529.05 L215.98 526.81 L216.12 524.58 L216.25 522.39 L216.38 520.29 L216.52 518.3 L216.65 516.47 L216.79 514.81 L216.92 513.36 L217.05 512.15 L217.19 511.2 L217.32 510.52 L217.45 510.14 L217.59 510.05 L217.72 510.28 L217.85 510.81 L217.99 511.65 L218.12 512.78 L218.25 514.19 L218.39 515.86 L218.52 517.77 L218.65 519.9 L218.79 522.2 L218.92 524.65 L219.05 527.2 L219.19 529.83 L219.32 532.48 L219.45 535.12 L219.59 537.71 L219.72 540.2 L219.85 542.54 L219.99 544.71 L220.12 546.67 L220.25 548.37 L220.39 549.8 L220.52 550.91 L220.65 551.7 L220.79 552.15 L220.92 552.24 L221.05 551.96 L221.19 551.33 L221.32 550.33 L221.45 548.99 L221.59 547.32 L221.72 545.34 L221.86 543.08 L221.99 540.58 L222.12 537.87 L222.26 534.98 L222.39 531.97 L222.52 528.88 L222.66 525.76 L222.79 522.66 L222.92 519.62 L223.06 516.71 L223.19 513.96 L223.32 511.41 L223.46 509.13 L223.59 507.14 L223.72 505.47 L223.86 504.17 L223.99 503.26 L224.12 502.74 L224.26 502.65 L224.39 502.98 L224.52 503.74 L224.66 504.91 L224.79 506.49 L224.92 508.45 L225.06 510.77 L225.19 513.42 L225.32 516.35 L225.46 519.53 L225.59 522.9 L225.72 526.41 L225.86 530.02 L225.99 533.66 L226.12 537.28 L226.26 540.81 L226.39 544.21 L226.52 547.41 L226.66 550.36 L226.79 553.01 L226.93 555.32 L227.06 557.24 L227.19 558.75 L227.33 559.8 L227.46 560.39 L227.59 560.48 L227.73 560.09 L227.86 559.2 L227.99 557.82 L228.13 555.98 L228.26 553.69 L228.39 550.99 L228.53 547.92 L228.66 544.51 L228.79 540.83 L228.93 536.92 L229.06 532.84 L229.19 528.66 L229.33 524.45 L229.46 520.27 L229.59 516.19 L229.73 512.27 L229.86 508.57 L229.99 505.17 L230.13 502.12 L230.26 499.46 L230.39 497.25 L230.53 495.53 L230.66 494.32 L230.79 493.66 L230.93 493.57 L231.06 494.04 L231.19 495.08 L231.33 496.67 L231.46 498.81 L231.59 501.45 L231.73 504.57 L231.86 508.12 L232 512.04 L232.13 516.28 L232.26 520.78 L232.4 525.47 L232.53 530.26 L232.66 535.1 L232.8 539.9 L232.93 544.58 L233.06 549.07 L233.2 553.3 L233.33 557.19 L233.46 560.68 L233.6 563.71 L233.73 566.23 L233.86 568.19 L234 569.55 L234.13 570.29 L234.26 570.39 L234.4 569.83 L234.53 568.63 L234.66 566.79 L234.8 564.34 L234.93 561.3 L235.06 557.73 L235.2 553.67 L235.33 549.19 L235.46 544.34 L235.6 539.2 L235.73 533.86 L235.86 528.39 L236 522.88 L236.13 517.42 L236.26 512.1 L236.4 506.99 L236.53 502.19 L236.66 497.78 L236.8 493.82 L236.93 490.39 L237.07 487.54 L237.2 485.33 L237.33 483.8 L237.47 482.98 L237.6 482.89 L237.73 483.54 L237.87 484.92 L238 487.02 L238.13 489.82 L238.27 493.27 L238.4 497.33 L238.53 501.94 L238.67 507.03 L238.8 512.52 L238.93 518.34 L239.07 524.38 L239.2 530.57 L239.33 536.79 L239.47 542.96 L239.6 548.97 L239.73 554.72 L239.87 560.13 L240 565.1 L240.13 569.55 L240.27 573.4 L240.4 576.59 L240.53 579.07 L240.67 580.77 L240.8 581.68 L240.93 581.76 L241.07 581.01 L241.2 579.44 L241.33 577.05 L241.47 573.89 L241.6 570 L241.74 565.42 L241.87 560.23 L242 554.5 L242.14 548.32 L242.27 541.79 L242.4 535 L242.54 528.06 L242.67 521.09 L242.8 514.18 L242.94 507.45 L243.07 501.01 L243.2 494.97 L243.34 489.42 L243.47 484.45 L243.6 480.16 L243.74 476.61 L243.87 473.86 L244 471.98 L244.14 470.99 L244.27 470.92 L244.4 471.78 L244.54 473.56 L244.67 476.24 L244.8 479.78 L244.94 484.15 L245.07 489.27 L245.2 495.07 L245.34 501.46 L245.47 508.35 L245.6 515.64 L245.74 523.2 L245.87 530.92 L246 538.68 L246.14 546.36 L246.27 553.83 L246.4 560.98 L246.54 567.68 L246.67 573.83 L246.81 579.33 L246.94 584.07 L247.07 587.99 L247.21 591.01 L247.34 593.08 L247.47 594.15 L247.61 594.2 L247.74 593.23 L247.87 591.23 L248.01 588.24 L248.14 584.29 L248.27 579.44 L248.41 573.76 L248.54 567.33 L248.67 560.25 L248.81 552.62 L248.94 544.57 L249.07 536.21 L249.21 527.69 L249.34 519.12 L249.47 510.65 L249.61 502.42 L249.74 494.55 L249.87 487.18 L250.01 480.42 L250.14 474.38 L250.27 469.18 L250.41 464.89 L250.54 461.59 L250.67 459.34 L250.81 458.19 L250.94 458.16 L251.07 459.26 L251.21 461.48 L251.34 464.79 L251.47 469.15 L251.61 474.49 L251.74 480.75 L251.88 487.82 L252.01 495.6 L252.14 503.98 L252.28 512.81 L252.41 521.97 L252.54 531.32 L252.68 540.69 L252.81 549.96 L252.94 558.96 L253.08 567.55 L253.21 575.6 L253.34 582.97 L253.48 589.55 L253.61 595.21 L253.74 599.87 L253.88 603.45 L254.01 605.87 L254.14 607.1 L254.28 607.1 L254.41 605.88 L254.54 603.43 L254.68 599.79 L254.81 595.01 L254.94 589.17 L255.08 582.33 L255.21 574.62 L255.34 566.13 L255.48 557.01 L255.61 547.39 L255.74 537.43 L255.88 527.28 L256.01 517.09 L256.14 507.04 L256.28 497.27 L256.41 487.96 L256.54 479.24 L256.68 471.27 L256.81 464.16 L256.95 458.05 L257.08 453.03 L257.21 449.18 L257.35 446.59 L257.48 445.29 L257.61 445.32 L257.75 446.68 L257.88 449.36 L258.01 453.32 L258.15 458.51 L258.28 464.86 L258.41 472.26 L258.55 480.62 L258.68 489.79 L258.81 499.65 L258.95 510.03 L259.08 520.79 L259.21 531.73 L259.35 542.71 L259.48 553.54 L259.61 564.04 L259.75 574.06 L259.88 583.42 L260.01 591.99 L260.15 599.6 L260.28 606.15 L260.41 611.52 L260.55 615.62 L260.68 618.37 L260.81 619.73 L260.95 619.67 L261.08 618.17 L261.21 615.26 L261.35 610.98 L261.48 605.38 L261.61 598.55 L261.75 590.59 L261.88 581.62 L262.02 571.77 L262.15 561.2 L262.28 550.08 L262.42 538.57 L262.55 526.85 L262.68 515.12 L262.82 503.55 L262.95 492.34 L263.08 481.65 L263.22 471.67 L263.35 462.55 L263.48 454.45 L263.62 447.49 L263.75 441.8 L263.88 437.47 L264.02 434.57 L264.15 433.15 L264.28 433.26 L264.42 434.89 L264.55 438.02 L264.68 442.61 L264.82 448.6 L264.95 455.89 L265.08 464.38 L265.22 473.95 L265.35 484.43 L265.48 495.67 L265.62 507.49 L265.75 519.72 L265.88 532.15 L266.02 544.6 L266.15 556.86 L266.28 568.74 L266.42 580.04 L266.55 590.6 L266.68 600.23 L266.82 608.78 L266.95 616.12 L267.09 622.11 L267.22 626.66 L267.35 629.69 L267.49 631.14 L267.62 630.99 L267.75 629.23 L267.89 625.89 L268.02 621 L268.15 614.65 L268.29 606.92 L268.42 597.93 L268.55 587.83 L268.69 576.76 L268.82 564.89 L268.95 552.42 L269.09 539.54 L269.22 526.45 L269.35 513.35 L269.49 500.46 L269.62 487.98 L269.75 476.1 L269.89 465.03 L270.02 454.93 L270.15 445.98 L270.29 438.31 L270.42 432.06 L270.55 427.32 L270.69 424.18 L270.82 422.7 L270.95 422.9 L271.09 424.78 L271.22 428.32 L271.35 433.48 L271.49 440.17 L271.62 448.29 L271.76 457.73 L271.89 468.33 L272.02 479.93 L272.16 492.35 L272.29 505.4 L272.42 518.86 L272.56 532.54 L272.69 546.21 L272.82 559.66 L272.96 572.67 L273.09 585.04 L273.22 596.57 L273.36 607.07 L273.49 616.37 L273.62 624.32 L273.76 630.8 L273.89 635.69 L274.02 638.92 L274.16 640.42 L274.29 640.17 L274.42 638.17 L274.56 634.45 L274.69 629.05 L274.82 622.06 L274.96 613.59 L275.09 603.76 L275.22 592.73 L275.36 580.68 L275.49 567.77 L275.62 554.23 L275.76 540.26 L275.89 526.09 L276.02 511.92 L276.16 498.01 L276.29 484.55 L276.42 471.77 L276.56 459.86 L276.69 449.03 L276.83 439.45 L276.96 431.26 L277.09 424.61 L277.23 419.59 L277.36 416.3 L277.49 414.79 L277.63 415.09 L277.76 417.2 L277.89 421.09 L278.03 426.69 L278.16 433.93 L278.29 442.7 L278.43 452.85 L278.56 464.24 L278.69 476.68 L278.83 489.97 L278.96 503.92 L279.09 518.29 L279.23 532.87 L279.36 547.42 L279.49 561.71 L279.63 575.52 L279.76 588.63 L279.89 600.82 L280.03 611.91 L280.16 621.71 L280.29 630.07 L280.43 636.85 L280.56 641.94 L280.69 645.27 L280.83 646.77 L280.96 646.42 L281.09 644.22 L281.23 640.2 L281.36 634.42 L281.49 626.98 L281.63 617.98 L281.76 607.57 L281.9 595.91 L282.03 583.19 L282.16 569.59 L282.3 555.35 L282.43 540.67 L282.56 525.8 L282.7 510.97 L282.83 496.41 L282.96 482.35 L283.1 469.02 L283.23 456.62 L283.36 445.37 L283.5 435.43 L283.63 426.96 L283.76 420.1 L283.9 414.96 L284.03 411.62 L284.16 410.14 L284.3 410.55 L284.43 412.83 L284.56 416.95 L284.7 422.86 L284.83 430.45 L284.96 439.61 L285.1 450.2 L285.23 462.04 L285.36 474.96 L285.5 488.75 L285.63 503.19 L285.76 518.05 L285.9 533.11 L286.03 548.11 L286.16 562.83 L286.3 577.02 L286.43 590.48 L286.56 602.97 L286.7 614.31 L286.83 624.32 L286.97 632.83 L287.1 639.71 L287.23 644.85 L287.37 648.17 L287.5 649.62 L287.63 649.16 L287.77 646.82 L287.9 642.62 L288.03 636.64 L288.17 628.95 L288.3 619.7 L288.43 609.02 L288.57 597.08 L288.7 584.06 L288.83 570.19 L288.97 555.67 L289.1 540.73 L289.23 525.62 L289.37 510.56 L289.5 495.81 L289.63 481.58 L289.77 468.11 L289.9 455.61 L290.03 444.27 L290.17 434.29 L290.3 425.8 L290.43 418.95 L290.57 413.85 L290.7 410.57 L290.83 409.17 L290.97 409.67 L291.1 412.06 L291.23 416.3 L291.37 422.32 L291.5 430.03 L291.63 439.31 L291.77 450 L291.9 461.94 L292.04 474.94 L292.17 488.8 L292.3 503.28 L292.44 518.17 L292.57 533.23 L292.7 548.22 L292.84 562.9 L292.97 577.04 L293.1 590.42 L293.24 602.83 L293.37 614.07 L293.5 623.96 L293.64 632.35 L293.77 639.11 L293.9 644.14 L294.04 647.35 L294.17 648.69 L294.3 648.15 L294.44 645.74 L294.57 641.49 L294.7 635.48 L294.84 627.8 L294.97 618.58 L295.1 607.96 L295.24 596.11 L295.37 583.22 L295.5 569.5 L295.64 555.16 L295.77 540.44 L295.9 525.55 L296.04 510.75 L296.17 496.26 L296.3 482.31 L296.44 469.13 L296.57 456.91 L296.71 445.86 L296.84 436.13 L296.97 427.9 L297.11 421.27 L297.24 416.37 L297.37 413.25 L297.51 411.97 L297.64 412.55 L297.77 414.97 L297.91 419.19 L298.04 425.14 L298.17 432.72 L298.31 441.82 L298.44 452.29 L298.57 463.95 L298.71 476.62 L298.84 490.11 L298.97 504.19 L299.11 518.64 L299.24 533.23 L299.37 547.74 L299.51 561.92 L299.64 575.57 L299.77 588.46 L299.91 600.4 L300.04 611.19 L300.17 620.67 L300.31 628.68 L300.44 635.12 L300.57 639.87 L300.71 642.88 L300.84 644.08 L300.97 643.48 L301.11 641.07 L301.24 636.91 L301.37 631.07 L301.51 623.63 L301.64 614.73 L301.78 604.5 L301.91 593.11 L302.04 580.74 L302.18 567.6 L302.31 553.88 L302.44 539.81 L302.58 525.61 L302.71 511.51 L302.84 497.73 L302.98 484.48 L303.11 471.98 L303.24 460.41 L303.38 449.96 L303.51 440.8 L303.64 433.05 L303.78 426.85 L303.91 422.28 L304.04 419.41 L304.18 418.28 L304.31 418.91 L304.44 421.28 L304.58 425.35 L304.71 431.05 L304.84 438.28 L304.98 446.92 L305.11 456.84 L305.24 467.88 L305.38 479.85 L305.51 492.56 L305.64 505.82 L305.78 519.41 L305.91 533.11 L306.04 546.71 L306.18 559.99 L306.31 572.75 L306.44 584.79 L306.58 595.91 L306.71 605.94 L306.85 614.74 L306.98 622.16 L307.11 628.1 L307.25 632.45 L307.38 635.17 L307.51 636.21 L307.65 635.57 L307.78 633.25 L307.91 629.31 L308.05 623.8 L308.18 616.82 L308.31 608.49 L308.45 598.95 L308.58 588.34 L308.71 576.85 L308.85 564.65 L308.98 551.93 L309.11 538.91 L309.25 525.79 L309.38 512.78 L309.51 500.08 L309.65 487.89 L309.78 476.4 L309.91 465.79 L310.05 456.22 L310.18 447.85 L310.31 440.8 L310.45 435.17 L310.58 431.04 L310.71 428.49 L310.85 427.53 L310.98 428.19 L311.11 430.43 L311.25 434.23 L311.38 439.51 L311.51 446.19 L311.65 454.15 L311.78 463.26 L311.92 473.37 L312.05 484.33 L312.18 495.94 L312.32 508.04 L312.45 520.41 L312.58 532.88 L312.72 545.23 L312.85 557.28 L312.98 568.84 L313.12 579.72 L313.25 589.76 L313.38 598.8 L313.52 606.71 L313.65 613.37 L313.78 618.67 L313.92 622.53 L314.05 624.92 L314.18 625.78 L314.32 625.13 L314.45 622.97 L314.58 619.34 L314.72 614.32 L314.85 607.98 L314.98 600.43 L315.12 591.8 L315.25 582.24 L315.38 571.88 L315.52 560.91 L315.65 549.5 L315.78 537.82 L315.92 526.07 L316.05 514.44 L316.18 503.1 L316.32 492.23 L316.45 482 L316.58 472.58 L316.72 464.09 L316.85 456.68 L316.99 450.46 L317.12 445.51 L317.25 441.91 L317.39 439.7 L317.52 438.92 L317.65 439.57 L317.79 441.64 L317.92 445.07 L318.05 449.81 L318.19 455.78 L318.32 462.88 L318.45 470.99 L318.59 479.97 L318.72 489.68 L318.85 499.96 L318.99 510.65 L319.12 521.57 L319.25 532.55 L319.39 543.43 L319.52 554.02 L319.65 564.16 L319.79 573.69 L319.92 582.47 L320.05 590.37 L320.19 597.25 L320.32 603.03 L320.45 607.62 L320.59 610.95 L320.72 612.97 L320.85 613.66 L320.99 613.02 L321.12 611.07 L321.25 607.85 L321.39 603.41 L321.52 597.83 L321.65 591.2 L321.79 583.65 L321.92 575.28 L322.06 566.25 L322.19 556.69 L322.32 546.76 L322.46 536.62 L322.59 526.43 L322.72 516.35 L322.86 506.54 L322.99 497.16 L323.12 488.34 L323.26 480.22 L323.39 472.93 L323.52 466.58 L323.66 461.26 L323.79 457.04 L323.92 454 L324.06 452.16 L324.19 451.55 L324.32 452.16 L324.46 454 L324.59 457 L324.72 461.13 L324.86 466.3 L324.99 472.43 L325.12 479.42 L325.26 487.15 L325.39 495.49 L325.52 504.3 L325.66 513.45 L325.79 522.79 L325.92 532.17 L326.06 541.44 L326.19 550.45 L326.32 559.08 L326.46 567.17 L326.59 574.61 L326.73 581.29 L326.86 587.1 L326.99 591.96 L327.13 595.8 L327.26 598.57 L327.39 600.23 L327.53 600.77 L327.66 600.17 L327.79 598.47 L327.93 595.69 L328.06 591.89 L328.19 587.13 L328.33 581.5 L328.46 575.09 L328.59 568 L328.73 560.37 L328.86 552.3 L328.99 543.93 L329.13 535.4 L329.26 526.84 L329.39 518.38 L329.53 510.16 L329.66 502.3 L329.79 494.94 L329.93 488.17 L330.06 482.1 L330.19 476.82 L330.33 472.42 L330.46 468.94 L330.59 466.44 L330.73 464.96 L330.86 464.5 L330.99 465.06 L331.13 466.63 L331.26 469.18 L331.39 472.66 L331.53 477 L331.66 482.13 L331.8 487.97 L331.93 494.41 L332.06 501.35 L332.2 508.67 L332.33 516.26 L332.46 524 L332.6 531.75 L332.73 539.41 L332.86 546.85 L333 553.95 L333.13 560.6 L333.26 566.71 L333.4 572.18 L333.53 576.93 L333.66 580.9 L333.8 584.01 L333.93 586.25 L334.06 587.57 L334.2 587.96 L334.33 587.43 L334.46 585.99 L334.6 583.67 L334.73 580.52 L334.86 576.59 L335 571.95 L335.13 566.68 L335.26 560.87 L335.4 554.61 L335.53 548.02 L335.66 541.18 L335.8 534.23 L335.93 527.26 L336.06 520.38 L336.2 513.71 L336.33 507.34 L336.46 501.37 L336.6 495.91 L336.73 491.01 L336.87 486.77 L337 483.23 L337.13 480.45 L337.27 478.47 L337.4 477.31 L337.53 476.98 L337.67 477.47 L337.8 478.78 L337.93 480.88 L338.07 483.71 L338.2 487.24 L338.33 491.41 L338.47 496.13 L338.6 501.33 L338.73 506.92 L338.87 512.81 L339 518.91 L339.13 525.12 L339.27 531.34 L339.4 537.46 L339.53 543.41 L339.67 549.07 L339.8 554.37 L339.93 559.23 L340.07 563.57 L340.2 567.34 L340.33 570.47 L340.47 572.92 L340.6 574.66 L340.73 575.68 L340.87 575.95 L341 575.5 L341.13 574.32 L341.27 572.44 L341.4 569.91 L341.53 566.76 L341.67 563.06 L341.8 558.87 L341.94 554.25 L342.07 549.29 L342.2 544.06 L342.34 538.66 L342.47 533.16 L342.6 527.66 L342.74 522.25 L342.87 517 L343 512 L343.14 507.32 L343.27 503.04 L343.4 499.22 L343.54 495.91 L343.67 493.16 L343.8 491.01 L343.94 489.49 L344.07 488.61 L344.2 488.38 L344.34 488.8 L344.47 489.85 L344.6 491.52 L344.74 493.76 L344.87 496.54 L345 499.81 L345.14 503.51 L345.27 507.58 L345.4 511.95 L345.54 516.54 L345.67 521.29 L345.8 526.12 L345.94 530.94 L346.07 535.69 L346.2 540.29 L346.34 544.67 L346.47 548.77 L346.6 552.51 L346.74 555.85 L346.87 558.73 L347.01 561.13 L347.14 563 L347.27 564.31 L347.41 565.07 L347.54 565.26 L347.67 564.88 L347.81 563.94 L347.94 562.48 L348.07 560.5 L348.21 558.07 L348.34 555.2 L348.47 551.97 L348.61 548.41 L348.74 544.6 L348.87 540.59 L349.01 536.45 L349.14 532.24 L349.27 528.04 L349.41 523.91 L349.54 519.91 L349.67 516.1 L349.81 512.55 L349.94 509.3 L350.07 506.41 L350.21 503.91 L350.34 501.84 L350.47 500.23 L350.61 499.1 L350.74 498.45 L350.87 498.3 L351.01 498.65 L351.14 499.47 L351.27 500.75 L351.41 502.47 L351.54 504.59 L351.67 507.08 L351.81 509.88 L351.94 512.97 L352.08 516.27 L352.21 519.74 L352.34 523.33 L352.48 526.96 L352.61 530.59 L352.74 534.16 L352.88 537.61 L353.01 540.89 L353.14 543.95 L353.28 546.74 L353.41 549.23 L353.54 551.37 L353.68 553.15 L353.81 554.53 L353.94 555.49 L354.08 556.04 L354.21 556.16 L354.34 555.85 L354.48 555.14 L354.61 554.02 L354.74 552.54 L354.88 550.71 L355.01 548.56 L355.14 546.14 L355.28 543.49 L355.41 540.65 L355.54 537.67 L355.68 534.6 L355.81 531.48 L355.94 528.37 L356.08 525.31 L356.21 522.36 L356.34 519.55 L356.48 516.94 L356.61 514.55 L356.75 512.43 L356.88 510.6 L357.01 509.1 L357.15 507.93 L357.28 507.11 L357.41 506.65 L357.55 506.56 L357.68 506.83 L357.81 507.45 L357.95 508.41 L358.08 509.68 L358.21 511.25 L358.35 513.08 L358.48 515.15 L358.61 517.41 L358.75 519.83 L358.88 522.37 L359.01 524.99 L359.15 527.64 L359.28 530.29 L359.41 532.89 L359.55 535.39 L359.68 537.77 L359.81 539.99 L359.95 542.01 L360.08 543.8 L360.21 545.35 L360.35 546.62 L360.48 547.61 L360.61 548.29 L360.75 548.67 L360.88 548.74 L361.01 548.51 L361.15 547.98 L361.28 547.16 L361.41 546.07 L361.55 544.74 L361.68 543.19 L361.82 541.44 L361.95 539.52 L362.08 537.47 L362.22 535.32 L362.35 533.11 L362.48 530.87 L362.62 528.64 L362.75 526.45 L362.88 524.34 L363.02 522.34 L363.15 520.47 L363.28 518.78 L363.42 517.27 L363.55 515.97 L363.68 514.91 L363.82 514.08 L363.95 513.51 L364.08 513.2 L364.22 513.15 L364.35 513.35 L364.48 513.8 L364.62 514.5 L364.75 515.41 L364.88 516.53 L365.02 517.84 L365.15 519.32 L365.28 520.93 L365.42 522.65 L365.55 524.45 L365.68 526.3 L365.82 528.18 L365.95 530.04 L366.08 531.87 L366.22 533.64 L366.35 535.31 L366.48 536.87 L366.62 538.28 L366.75 539.54 L366.89 540.61 L367.02 541.5 L367.15 542.18 L367.29 542.65 L367.42 542.91 L367.55 542.95 L367.69 542.77 L367.82 542.39 L367.95 541.81 L368.09 541.04 L368.22 540.1 L368.35 539.01 L368.49 537.78 L368.62 536.44 L368.75 535.01 L368.89 533.51 L369.02 531.97 L369.15 530.41 L369.29 528.86 L369.42 527.34 L369.55 525.88 L369.69 524.49 L369.82 523.2 L369.95 522.03 L370.09 521 L370.22 520.11 L370.35 519.38 L370.49 518.82 L370.62 518.43 L370.75 518.22 L370.89 518.2 L371.02 518.35 L371.15 518.67 L371.29 519.15 L371.42 519.79 L371.55 520.57 L371.69 521.47 L371.82 522.49 L371.96 523.6 L372.09 524.78 L372.22 526.02 L372.36 527.29 L372.49 528.57 L372.62 529.85 L372.76 531.1 L372.89 532.3 L373.02 533.44 L373.16 534.5 L373.29 535.46 L373.42 536.31 L373.56 537.04 L373.69 537.64 L373.82 538.09 L373.96 538.41 L374.09 538.57 L374.22 538.59 L374.36 538.47 L374.49 538.2 L374.62 537.8 L374.76 537.28 L374.89 536.63 L375.02 535.89 L375.16 535.06 L375.29 534.15 L375.42 533.18 L375.56 532.16 L375.69 531.12 L375.82 530.07 L375.96 529.03 L376.09 528.01 L376.22 527.02 L376.36 526.1 L376.49 525.23 L376.62 524.45 L376.76 523.76 L376.89 523.17 L377.03 522.69 L377.16 522.32 L377.29 522.06 L377.43 521.93 L377.56 521.92 L377.69 522.02 L377.83 522.24 L377.96 522.57 L378.09 523 L378.23 523.52 L378.36 524.13 L378.49 524.81 L378.63 525.55 L378.76 526.34 L378.89 527.16 L379.03 528.01 L379.16 528.86 L379.29 529.71 L379.43 530.53 L379.56 531.33 L379.69 532.08 L379.83 532.78 L379.96 533.41 L380.09 533.97 L380.23 534.44 L380.36 534.83 L380.49 535.13 L380.63 535.33 L380.76 535.43 L380.89 535.44 L381.03 535.36 L381.16 535.18 L381.29 534.91 L381.43 534.56 L381.56 534.14 L381.69 533.65 L381.83 533.1 L381.96 532.5 L382.1 531.86 L382.23 531.2 L382.36 530.52 L382.5 529.83 L382.63 529.15 L382.76 528.49 L382.9 527.85 L383.03 527.24 L383.16 526.69 L383.3 526.18 L383.43 525.73 L383.56 525.35 L383.7 525.04 L383.83 524.81 L383.96 524.65 L384.1 524.56 L384.23 524.56 L384.36 524.63 L384.5 524.77 L384.63 524.99 L384.76 525.27 L384.9 525.61 L385.03 526.01 L385.16 526.45 L385.3 526.93 L385.43 527.43 L385.56 527.97 L385.7 528.51 L385.83 529.06 L385.96 529.6 L386.1 530.13 L386.23 530.64 L386.36 531.12 L386.5 531.56 L386.63 531.97 L386.77 532.32 L386.9 532.62 L387.03 532.87 L387.17 533.06 L387.3 533.18 L387.43 533.25 L387.57 533.25 L387.7 533.19 L387.83 533.07 L387.97 532.9 L388.1 532.68 L388.23 532.41 L388.37 532.09 L388.5 531.74 L388.63 531.36 L388.77 530.96 L388.9 530.54 L389.03 530.1 L389.17 529.67 L389.3 529.24 L389.43 528.82 L389.57 528.42 L389.7 528.04 L389.83 527.69 L389.97 527.37 L390.1 527.09 L390.23 526.85 L390.37 526.66 L390.5 526.51 L390.63 526.41 L390.77 526.37 L390.9 526.36 L391.03 526.41 L391.17 526.51 L391.3 526.64 L391.43 526.82 L391.57 527.03 L391.7 527.28 L391.84 527.56 L391.97 527.86 L392.1 528.18 L392.24 528.51 L392.37 528.85 L392.5 529.19 L392.64 529.53 L392.77 529.86 L392.9 530.17 L393.04 530.47 L393.17 530.74 L393.3 530.99 L393.44 531.21 L393.57 531.4 L393.7 531.55 L393.84 531.66 L393.97 531.74 L394.1 531.78 L394.24 531.77 L394.37 531.74 L394.5 531.66 L394.64 531.56 L394.77 531.42 L394.9 531.25 L395.04 531.05 L395.17 530.84 L395.3 530.6 L395.44 530.35 L395.57 530.09 L395.7 529.83 L395.84 529.56 L395.97 529.3 L396.1 529.04 L396.24 528.8 L396.37 528.57 L396.5 528.35 L396.64 528.16 L396.77 527.99 L396.91 527.85 L397.04 527.73 L397.17 527.64 L397.31 527.58 L397.44 527.56 L397.57 527.56 L397.71 527.59 L397.84 527.64 L397.97 527.73 L398.11 527.84 L398.24 527.97 L398.37 528.12 L398.51 528.29 L398.64 528.47 L398.77 528.66 L398.91 528.86 L399.04 529.07 L399.17 529.27 L399.31 529.48 L399.44 529.68 L399.57 529.87 L399.71 530.04 L399.84 530.21 L399.97 530.36 L400.11 530.49 L400.24 530.6 L400.37 530.69 L400.51 530.76 L400.64 530.8 L400.77 530.82 L400.91 530.82 L401.04 530.8 L401.17 530.75 L401.31 530.69 L401.44 530.6 L401.57 530.5 L401.71 530.38 L401.84 530.25 L401.98 530.11 L402.11 529.97 L402.24 529.81 L402.38 529.65 L402.51 529.5 L402.64 529.34 L402.78 529.19 L402.91 529.04 L403.04 528.91 L403.18 528.78 L403.31 528.67 L403.44 528.57 L403.58 528.48 L403.71 528.41 L403.84 528.36 L403.98 528.33 L404.11 528.31 L404.24 528.32 L404.38 528.33 L404.51 528.37 L404.64 528.42 L404.78 528.48 L404.91 528.56 L405.04 528.65 L405.18 528.75 L405.31 528.86 L405.44 528.97 L405.58 529.09 L405.71 529.21 L405.84 529.33 L405.98 529.45 L406.11 529.56 L406.24 529.67 L406.38 529.78 L406.51 529.87 L406.64 529.96 L406.78 530.03 L406.91 530.1 L407.05 530.15 L407.18 530.19 L407.31 530.21 L407.45 530.22 L407.58 530.22 L407.71 530.21 L407.85 530.18 L407.98 530.14 L408.11 530.09 L408.25 530.03 L408.38 529.97 L408.51 529.89 L408.65 529.81 L408.78 529.72 L408.91 529.64 L409.05 529.55 L409.18 529.45 L409.31 529.36 L409.45 529.28 L409.58 529.19 L409.71 529.12 L409.85 529.04 L409.98 528.98 L410.11 528.92 L410.25 528.87 L410.38 528.84 L410.51 528.81 L410.65 528.79 L410.78 528.78 L410.91 528.78 L411.05 528.79 L411.18 528.81 L411.31 528.84 L411.45 528.88 L411.58 528.92 L411.71 528.97 L411.85 529.03 L411.98 529.09 L412.12 529.16 L412.25 529.22 L412.38 529.29 L412.52 529.36 L412.65 529.43 L412.78 529.49 L412.92 529.55 L413.05 529.61 L413.18 529.67 L413.32 529.71 L413.45 529.76 L413.58 529.79 L413.72 529.82 L413.85 529.84 L413.98 529.86 L414.12 529.86 L414.25 529.86 L414.38 529.85 L414.52 529.84 L414.65 529.82 L414.78 529.79 L414.92 529.75 L415.05 529.72 L415.18 529.67 L415.32 529.63 L415.45 529.58 L415.58 529.53 L415.72 529.48 L415.85 529.43 L415.98 529.38 L416.12 529.33 L416.25 529.29 L416.38 529.24 L416.52 529.2 L416.65 529.17 L416.79 529.14 L416.92 529.11 L417.05 529.09 L417.19 529.07 L417.32 529.06 L417.45 529.06 L417.59 529.06 L417.72 529.06 L417.85 529.08 L417.99 529.09 L418.12 529.11 L418.25 529.14 L418.39 529.17 L418.52 529.2 L418.65 529.23 L418.79 529.27 L418.92 529.3 L419.05 529.34 L419.19 529.38 L419.32 529.42 L419.45 529.45 L419.59 529.48 L419.72 529.52 L419.85 529.55 L419.99 529.57 L420.12 529.6 L420.25 529.61 L420.39 529.63 L420.52 529.64 L420.65 529.65 L420.79 529.65 L420.92 529.65 L421.05 529.65 L421.19 529.64 L421.32 529.63 L421.45 529.61 L421.59 529.59 L421.72 529.57 L421.86 529.55 L421.99 529.52 L422.12 529.5 L422.26 529.47 L422.39 529.44 L422.52 529.42 L422.66 529.39 L422.79 529.36 L422.92 529.34 L423.06 529.31 L423.19 529.29 L423.32 529.27 L423.46 529.26 L423.59 529.24 L423.72 529.23 L423.86 529.22 L423.99 529.22 L424.12 529.22 L424.26 529.22 L424.39 529.22 L424.52 529.23 L424.66 529.24 L424.79 529.25 L424.92 529.26 L425.06 529.28 L425.19 529.29 L425.32 529.31 L425.46 529.33 L425.59 529.35 L425.72 529.37 L425.86 529.39 L425.99 529.41 L426.12 529.43 L426.26 529.45 L426.39 529.46 L426.52 529.48 L426.66 529.49 L426.79 529.5 L426.93 529.51 L427.06 529.52 L427.19 529.53 L427.33 529.53 L427.46 529.53 L427.59 529.53 L427.73 529.53 L427.86 529.52 L427.99 529.52 L428.13 529.51 L428.26 529.5 L428.39 529.49 L428.53 529.48 L428.66 529.46 L428.79 529.45 L428.93 529.44 L429.06 529.42 L429.19 529.41 L429.33 529.39 L429.46 529.38 L429.59 529.37 L429.73 529.36 L429.86 529.34 L429.99 529.33 L430.13 529.33 L430.26 529.32 L430.39 529.31 L430.53 529.31 L430.66 529.31 L430.79 529.3 L430.93 529.31 L431.06 529.31 L431.19 529.31 L431.33 529.32 L431.46 529.32 L431.59 529.33 L431.73 529.34 L431.86 529.34 L432 529.35 L432.13 529.36 L432.26 529.37 L432.4 529.38 L432.53 529.39 L432.66 529.4 L432.8 529.41 L432.93 529.42 L433.06 529.43 L433.2 529.44 L433.33 529.45 L433.46 529.45 L433.6 529.46 L433.73 529.46 L433.86 529.47 L434 529.47 L434.13 529.47 L434.26 529.47 L434.4 529.47 L434.53 529.46 L434.66 529.46 L434.8 529.46 L434.93 529.45 L435.06 529.45 L435.2 529.44 L435.33 529.43 L435.46 529.43 L435.6 529.42 L435.73 529.41 L435.86 529.4 L436 529.4 L436.13 529.39 L436.26 529.38 L436.4 529.38 L436.53 529.37 L436.66 529.37 L436.8 529.36 L436.93 529.36 L437.07 529.36 L437.2 529.35 L437.33 529.35 L437.47 529.35 L437.6 529.35 L437.73 529.35 L437.87 529.36 L438 529.36 L438.13 529.36 L438.27 529.36 L438.4 529.37 L438.53 529.37 L438.67 529.38 L438.8 529.38 L438.93 529.39 L439.07 529.39 L439.2 529.4 L439.33 529.4 L439.47 529.41 L439.6 529.41 L439.73 529.42 L439.87 529.42 L440 529.42 L440.13 529.43 L440.27 529.43 L440.4 529.43 L440.53 529.43 L440.67 529.43 L440.8 529.43 L440.93 529.43 L441.07 529.43 L441.2 529.43 L441.33 529.43 L441.47 529.43 L441.6 529.43 L441.73 529.42 L441.87 529.42 L442 529.42 L442.14 529.41 L442.27 529.41 L442.4 529.41 L442.54 529.4 L442.67 529.4 L442.8 529.4 L442.94 529.39 L443.07 529.39 L443.2 529.39 L443.34 529.38 L443.47 529.38 L443.6 529.38 L443.74 529.38 L443.87 529.38 L444 529.38 L444.14 529.38 L444.27 529.38 L444.4 529.38 L444.54 529.38 L444.67 529.38 L444.8 529.38 L444.94 529.38 L445.07 529.38 L445.2 529.39 L445.34 529.39 L445.47 529.39 L445.6 529.39 L445.74 529.4 L445.87 529.4 L446 529.4 L446.14 529.4 L446.27 529.41 L446.4 529.41 L446.54 529.41 L446.67 529.41 L446.81 529.41 L446.94 529.41 L447.07 529.41 L447.21 529.42 L447.34 529.42 L447.47 529.42 L447.61 529.42 L447.74 529.42 L447.87 529.42 L448.01 529.41 L448.14 529.41 L448.27 529.41 L448.41 529.41 L448.54 529.41 L448.67 529.41 L448.81 529.41 L448.94 529.4 L449.07 529.4 L449.21 529.4 L449.34 529.4 L449.47 529.4 L449.61 529.4 L449.74 529.39 L449.87 529.39 L450.01 529.39 L450.14 529.39 L450.27 529.39 L450.41 529.39 L450.54 529.39 L450.67 529.39 L450.81 529.39 L450.94 529.39 L451.07 529.39 L451.21 529.39 L451.34 529.39 L451.47 529.39 L451.61 529.39 L451.74 529.39 L451.88 529.39 L452.01 529.39 L452.14 529.4 L452.28 529.4 L452.41 529.4 L452.54 529.4 L452.68 529.4 L452.81 529.4 L452.94 529.4 L453.08 529.4 L453.21 529.4 L453.34 529.41 L453.48 529.41 L453.61 529.41 L453.74 529.41 L453.88 529.41 L454.01 529.41 L454.14 529.41 L454.28 529.41 L454.41 529.41 L454.54 529.41 L454.68 529.41 L454.81 529.41 L454.94 529.41 L455.08 529.4 L455.21 529.4 L455.34 529.4 L455.48 529.4 L455.61 529.4 L455.74 529.4 L455.88 529.4 L456.01 529.4 L456.14 529.4 L456.28 529.4 L456.41 529.4 L456.54 529.4 L456.68 529.4 L456.81 529.4 L456.95 529.4 L457.08 529.4 L457.21 529.4 L457.35 529.4 L457.48 529.39 L457.61 529.4 L457.75 529.4 L457.88 529.4 L458.01 529.4 L458.15 529.4 L458.28 529.4 L458.41 529.4 L458.55 529.4 L458.68 529.4 L458.81 529.4 L458.95 529.4 L459.08 529.4 L459.21 529.4 L459.35 529.4 L459.48 529.4 L459.61 529.4 L459.75 529.4 L459.88 529.4 L460.01 529.4 L460.15 529.4 L460.28 529.4 L460.41 529.4 L460.55 529.4 L460.68 529.4 L460.81 529.4 L460.95 529.4 L461.08 529.4 L461.21 529.4 L461.35 529.4 L461.48 529.4 L461.61 529.4 L461.75 529.4 L461.88 529.4 L462.02 529.4 L462.15 529.4 L462.28 529.4 L462.42 529.4 L462.55 529.4 L462.68 529.4 L462.82 529.4 L462.95 529.4 L463.08 529.4 L463.22 529.4 L463.35 529.4 L463.48 529.4 L463.62 529.4 L463.75 529.4 L463.88 529.4 L464.02 529.4 L464.15 529.4 L464.28 529.4 L464.42 529.4 L464.55 529.4 L464.68 529.4 L464.82 529.4 L464.95 529.4 L465.08 529.4 L465.22 529.4 L465.35 529.4 L465.48 529.4 L465.62 529.4 L465.75 529.4 L465.88 529.4 L466.02 529.4 L466.15 529.4 L466.28 529.4 L466.42 529.4 L466.55 529.4 L466.68 529.4 L466.82 529.4 L466.95 529.4 L467.09 529.4 L467.22 529.4 L467.35 529.4 L467.49 529.4 L467.62 529.4 L467.75 529.4 L467.89 529.4 L468.02 529.4 L468.15 529.4 L468.29 529.4 L468.42 529.4 L468.55 529.4 L468.69 529.4 L468.82 529.4 L468.95 529.4 L469.09 529.4 L469.22 529.4 L469.35 529.4 L469.49 529.4 L469.62 529.4 L469.75 529.4 L469.89 529.4 L470.02 529.4 L470.15 529.4 L470.29 529.4 L470.42 529.4 L470.55 529.4 L470.69 529.4 L470.82 529.4 L470.95 529.4 L471.09 529.4 L471.22 529.4 L471.35 529.4 L471.49 529.4 L471.62 529.4 L471.75 529.4 L471.89 529.4 L472.02 529.4 L472.16 529.4 L472.29 529.4 L472.42 529.4 L472.56 529.4 L472.69 529.4 L472.82 529.4 L472.96 529.4 L473.09 529.4 L473.22 529.4 L473.36 529.4 L473.49 529.4 L473.62 529.4 L473.76 529.4 L473.89 529.4 L474.02 529.4 L474.16 529.4 L474.29 529.4 L474.42 529.4 L474.56 529.4 L474.69 529.4 L474.82 529.4 L474.96 529.4 L475.09 529.4 L475.22 529.4 L475.36 529.4 L475.49 529.4 L475.62 529.4 L475.76 529.4 L475.89 529.4 L476.02 529.4 L476.16 529.4 L476.29 529.4 L476.42 529.4 L476.56 529.4 L476.69 529.4 L476.83 529.4 L476.96 529.4 L477.09 529.4 L477.23 529.4 L477.36 529.4 L477.49 529.4 L477.63 529.4 L477.76 529.4 L477.89 529.4 L478.03 529.4 L478.16 529.4 L478.29 529.4 L478.43 529.4 L478.56 529.4 L478.69 529.4 L478.83 529.4 L478.96 529.4 L479.09 529.4 L479.23 529.4 L479.36 529.4 L479.49 529.4 L479.63 529.4 L479.76 529.4 L479.89 529.4 L480.03 529.4 L480.16 529.4 L480.29 529.4 L480.43 529.4 L480.56 529.4 L480.69 529.4 L480.83 529.4 L480.96 529.4 L481.09 529.4 L481.23 529.4 L481.36 529.4 L481.49 529.4 L481.63 529.4 L481.76 529.4 L481.9 529.4 L482.03 529.4 L482.16 529.4 L482.3 529.4 L482.43 529.4 L482.56 529.4 L482.7 529.4 L482.83 529.4 L482.96 529.4 L483.1 529.4 L483.23 529.4 L483.36 529.4 L483.5 529.4 L483.63 529.4 L483.76 529.4 L483.9 529.4 L484.03 529.4 L484.16 529.4 L484.3 529.4 L484.43 529.4 L484.56 529.4 L484.7 529.4 L484.83 529.4 L484.96 529.4 L485.1 529.4 L485.23 529.4 L485.36 529.4 L485.5 529.4 L485.63 529.4 L485.76 529.4 L485.9 529.4 L486.03 529.4 L486.16 529.4 L486.3 529.4 L486.43 529.4 L486.56 529.4 L486.7 529.4 L486.83 529.4 L486.97 529.4 L487.1 529.4 L487.23 529.4 L487.37 529.4 L487.5 529.4 L487.63 529.4 L487.77 529.4 L487.9 529.4 L488.03 529.4 L488.17 529.4 L488.3 529.4 L488.43 529.4 L488.57 529.4 L488.7 529.4 L488.83 529.4 L488.97 529.4 L489.1 529.4 L489.23 529.4 L489.37 529.4 L489.5 529.4 L489.63 529.4 L489.77 529.4 L489.9 529.4 L490.03 529.4 L490.17 529.4 L490.3 529.4 L490.43 529.4 L490.57 529.4 L490.7 529.4 L490.83 529.4 L490.97 529.4 L491.1 529.4 L491.23 529.4 L491.37 529.4 L491.5 529.4 L491.63 529.4 L491.77 529.4 L491.9 529.4 L492.04 529.4 L492.17 529.4 L492.3 529.4 L492.44 529.4 L492.57 529.4 L492.7 529.4 L492.84 529.4 L492.97 529.4 L493.1 529.4 L493.24 529.4 L493.37 529.4 L493.5 529.4 L493.64 529.4 L493.77 529.4 L493.9 529.4 L494.04 529.4 L494.17 529.4 L494.3 529.4 L494.44 529.4 L494.57 529.4 L494.7 529.4 L494.84 529.4 L494.97 529.4 L495.1 529.4 L495.24 529.4 L495.37 529.4 L495.5 529.4 L495.64 529.4 L495.77 529.4 L495.9 529.4 L496.04 529.4 L496.17 529.4 L496.3 529.4 L496.44 529.4 L496.57 529.4 L496.7 529.4 L496.84 529.4 L496.97 529.4 L497.11 529.4 L497.24 529.4 L497.37 529.4 L497.51 529.4 L497.64 529.4 L497.77 529.4 L497.91 529.4 L498.04 529.4 L498.17 529.4 L498.31 529.4 L498.44 529.4 L498.57 529.4 L498.71 529.4 L498.84 529.4 L498.97 529.4 L499.11 529.4 L499.24 529.4 L499.37 529.4 L499.51 529.4 L499.64 529.4 L499.77 529.4 L499.91 529.4 L500.04 529.4 L500.17 529.4 L500.31 529.4 L500.44 529.4 L500.57 529.4 L500.71 529.4 L500.84 529.4 L500.97 529.4 L501.11 529.4 L501.24 529.4 L501.37 529.4 L501.51 529.4 L501.64 529.4 L501.77 529.4 L501.91 529.4 L502.04 529.4 L502.18 529.4 L502.31 529.4 L502.44 529.4 L502.58 529.4 L502.71 529.4 L502.84 529.4 L502.98 529.4 L503.11 529.4 L503.24 529.4 L503.38 529.4 L503.51 529.4 L503.64 529.4 L503.78 529.4 L503.91 529.4 L504.04 529.4 L504.18 529.4 L504.31 529.4 L504.44 529.4 L504.58 529.4 L504.71 529.4 L504.84 529.4 L504.98 529.4 L505.11 529.4 L505.24 529.4 L505.38 529.4 L505.51 529.4 L505.64 529.4 L505.78 529.4 L505.91 529.4 L506.04 529.4 L506.18 529.4 L506.31 529.4 L506.44 529.4 L506.58 529.4 L506.71 529.4 L506.85 529.4 L506.98 529.4 L507.11 529.4 L507.25 529.4 L507.38 529.4 L507.51 529.4 L507.65 529.4 L507.78 529.4 L507.91 529.4 L508.05 529.4 L508.18 529.4 L508.31 529.4 L508.45 529.4 L508.58 529.4 L508.71 529.4 L508.85 529.4 L508.98 529.4 L509.11 529.4 L509.25 529.4 L509.38 529.4 L509.51 529.4 L509.65 529.4 L509.78 529.4 L509.91 529.4 L510.05 529.4 L510.18 529.4 L510.31 529.4 L510.45 529.4 L510.58 529.4 L510.71 529.4 L510.85 529.4 L510.98 529.4 L511.11 529.4 L511.25 529.4 L511.38 529.4 L511.51 529.4 L511.65 529.4 L511.78 529.4 L511.92 529.4 L512.05 529.4 L512.18 529.4 L512.32 529.4 L512.45 529.4 L512.58 529.4 L512.72 529.4 L512.85 529.4 L512.98 529.4 L513.12 529.4 L513.25 529.4 L513.38 529.4 L513.52 529.4 L513.65 529.4 L513.78 529.4 L513.92 529.4 L514.05 529.4 L514.18 529.4 L514.32 529.4 L514.45 529.4 L514.58 529.4 L514.72 529.4 L514.85 529.4 L514.98 529.4 L515.12 529.4 L515.25 529.4 L515.38 529.4 L515.52 529.4 L515.65 529.4 L515.78 529.4 L515.92 529.4 L516.05 529.4 L516.18 529.4 L516.32 529.4 L516.45 529.4 L516.58 529.4 L516.72 529.4 L516.85 529.4 L516.99 529.4 L517.12 529.4 L517.25 529.4 L517.39 529.4 L517.52 529.4 L517.65 529.4 L517.79 529.4 L517.92 529.4 L518.05 529.4 L518.19 529.4 L518.32 529.4 L518.45 529.4 L518.59 529.4 L518.72 529.4 L518.85 529.4 L518.99 529.4 L519.12 529.4 L519.25 529.4 L519.39 529.4 L519.52 529.4 L519.65 529.4 L519.79 529.4 L519.92 529.4 L520.05 529.4 L520.19 529.4 L520.32 529.4 L520.45 529.4 L520.59 529.4 L520.72 529.4 L520.85 529.4 L520.99 529.4 L521.12 529.4 L521.25 529.4 L521.39 529.4 L521.52 529.4 L521.65 529.4 L521.79 529.4 L521.92 529.4 L522.06 529.4 L522.19 529.4 L522.32 529.4 L522.46 529.4 L522.59 529.4 L522.72 529.4 L522.86 529.4 L522.99 529.4 L523.12 529.4 L523.26 529.4 L523.39 529.4 L523.52 529.4 L523.66 529.4 L523.79 529.4 L523.92 529.4 L524.06 529.4 L524.19 529.4 L524.32 529.4 L524.46 529.4 L524.59 529.4 L524.72 529.4 L524.86 529.4 L524.99 529.4 L525.12 529.4 L525.26 529.4 L525.39 529.4 L525.52 529.4 L525.66 529.4 L525.79 529.4 L525.92 529.4 L526.06 529.4 L526.19 529.4 L526.32 529.4 L526.46 529.4 L526.59 529.4 L526.72 529.4 L526.86 529.4 L526.99 529.4 L527.13 529.4 L527.26 529.4 L527.39 529.4 L527.53 529.4 L527.66 529.4 L527.79 529.4 L527.93 529.4 L528.06 529.4 L528.19 529.4 L528.33 529.4 L528.46 529.4 L528.59 529.4 L528.73 529.4 L528.86 529.4 L528.99 529.4 L529.13 529.4 L529.26 529.4 L529.39 529.4 L529.53 529.4 L529.66 529.4 L529.79 529.4 L529.93 529.4 L530.06 529.4 L530.19 529.4 L530.33 529.4 L530.46 529.4 L530.59 529.4 L530.73 529.4 L530.86 529.4 L530.99 529.4 L531.13 529.4 L531.26 529.4 L531.39 529.4 L531.53 529.4 L531.66 529.4 L531.79 529.4 L531.93 529.4 L532.06 529.4 L532.2 529.4 L532.33 529.4 L532.46 529.4 L532.6 529.4 L532.73 529.4 L532.86 529.4 L533 529.4 L533.13 529.4 L533.26 529.4 L533.4 529.4 L533.53 529.4 L533.66 529.4 L533.8 529.4 L533.93 529.4 L534.06 529.4 L534.2 529.4 L534.33 529.4 L534.46 529.4 L534.6 529.4 L534.73 529.4 L534.86 529.4 L535 529.4 L535.13 529.4 L535.26 529.4 L535.4 529.4 L535.53 529.4 L535.66 529.4 L535.8 529.4 L535.93 529.4 L536.06 529.4 L536.2 529.4 L536.33 529.4 L536.46 529.4 L536.6 529.4 L536.73 529.4 L536.87 529.4 L537 529.4 L537.13 529.4 L537.27 529.4 L537.4 529.4 L537.53 529.4 L537.67 529.4 L537.8 529.4 L537.93 529.4 L538.07 529.4 L538.2 529.4 L538.33 529.4 L538.47 529.4 L538.6 529.4 L538.73 529.4 L538.87 529.4 L539 529.4 L539.13 529.4 L539.27 529.4 L539.4 529.4 L539.53 529.4 L539.67 529.4 L539.8 529.4 L539.93 529.4 L540.07 529.4 L540.2 529.4 L540.33 529.4 L540.47 529.4 L540.6 529.4 L540.73 529.4 L540.87 529.4 L541 529.4 L541.13 529.4 L541.27 529.4 L541.4 529.4 L541.53 529.4 L541.67 529.4 L541.8 529.4 L541.94 529.4 L542.07 529.4 L542.2 529.4 L542.34 529.4 L542.47 529.4 L542.6 529.4 L542.74 529.4 L542.87 529.4 L543 529.4 L543.14 529.4 L543.27 529.4 L543.4 529.4 L543.54 529.4 L543.67 529.4 L543.8 529.4 L543.94 529.4 L544.07 529.4 L544.2 529.4 L544.34 529.4 L544.47 529.4 L544.6 529.4 L544.74 529.4 L544.87 529.4 L545 529.4 L545.14 529.4 L545.27 529.4 L545.4 529.4 L545.54 529.4 L545.67 529.4 L545.8 529.4 L545.94 529.4 L546.07 529.4 L546.2 529.4 L546.34 529.4 L546.47 529.4 L546.6 529.4 L546.74 529.4 L546.87 529.4 L547.01 529.4 L547.14 529.4 L547.27 529.4 L547.41 529.4 L547.54 529.4 L547.67 529.4 L547.81 529.4 L547.94 529.4 L548.07 529.4 L548.21 529.4 L548.34 529.4 L548.47 529.4 L548.61 529.4 L548.74 529.4 L548.87 529.4 L549.01 529.4 L549.14 529.4 L549.27 529.4 L549.41 529.4 L549.54 529.4 L549.67 529.4 L549.81 529.4 L549.94 529.4 L550.07 529.4 L550.21 529.4 L550.34 529.4 L550.47 529.4 L550.61 529.4 L550.74 529.4 L550.87 529.4 L551.01 529.4 L551.14 529.4 L551.27 529.4 L551.41 529.4 L551.54 529.4 L551.67 529.4 L551.81 529.4 L551.94 529.4 L552.08 529.4 L552.21 529.4 L552.34 529.4 L552.48 529.4 L552.61 529.4 L552.74 529.4 L552.88 529.4 L553.01 529.4 L553.14 529.4 L553.28 529.4 L553.41 529.4 L553.54 529.4 L553.68 529.4 L553.81 529.4 L553.94 529.4 L554.08 529.4 L554.21 529.4 L554.34 529.4 L554.48 529.4 L554.61 529.4 L554.74 529.4 L554.88 529.4 L555.01 529.4 L555.14 529.4 L555.28 529.4 L555.41 529.4 L555.54 529.4 L555.68 529.4 L555.81 529.4 L555.94 529.4 L556.08 529.4 L556.21 529.4 L556.34 529.4 L556.48 529.4 L556.61 529.4 L556.74 529.4 L556.88 529.4 L557.01 529.4 L557.15 529.4 L557.28 529.4 L557.41 529.4 L557.55 529.4 L557.68 529.4 L557.81 529.4 L557.95 529.4 L558.08 529.4 L558.21 529.4 L558.35 529.4 L558.48 529.4 L558.61 529.4 L558.75 529.4 L558.88 529.4 L559.01 529.4 L559.15 529.4 L559.28 529.4 L559.41 529.4 L559.55 529.4 L559.68 529.4 L559.81 529.4 L559.95 529.4 L560.08 529.4 L560.21 529.4 L560.35 529.4 L560.48 529.4 L560.61 529.4 L560.75 529.4 L560.88 529.4 L561.01 529.4 L561.15 529.4 L561.28 529.4 L561.41 529.4 L561.55 529.4 L561.68 529.4 L561.81 529.4 L561.95 529.4 L562.08 529.4 L562.22 529.4 L562.35 529.4 L562.48 529.4 L562.62 529.4 L562.75 529.4 L562.88 529.4 L563.02 529.4 L563.15 529.4 L563.28 529.4 L563.42 529.4 L563.55 529.4 L563.68 529.4 L563.82 529.4 L563.95 529.4 L564.08 529.4 L564.22 529.4 L564.35 529.4 L564.48 529.4 L564.62 529.4 L564.75 529.4 L564.88 529.4 L565.02 529.4 L565.15 529.4 L565.28 529.4 L565.42 529.4 L565.55 529.4 L565.68 529.4 L565.82 529.4 L565.95 529.4 L566.08 529.4 L566.22 529.4 L566.35 529.4 L566.48 529.4 L566.62 529.4 L566.75 529.4 L566.89 529.4 L567.02 529.4 L567.15 529.4 L567.29 529.4 L567.42 529.4 L567.55 529.4 L567.69 529.4 L567.82 529.4 L567.95 529.4 L568.09 529.4 L568.22 529.4 L568.35 529.4 L568.49 529.4 L568.62 529.4 L568.75 529.4 L568.89 529.4 L569.02 529.4 L569.15 529.4 L569.29 529.4 L569.42 529.4 L569.55 529.4 L569.69 529.4 L569.82 529.4 L569.95 529.4 L570.09 529.4 L570.22 529.4 L570.35 529.4 L570.49 529.4 L570.62 529.4 L570.75 529.4 L570.89 529.4 L571.02 529.4 L571.15 529.4 L571.29 529.4 L571.42 529.4 L571.55 529.4 L571.69 529.4 L571.82 529.4 L571.96 529.4 L572.09 529.4 L572.22 529.4 L572.36 529.4 L572.49 529.4 L572.62 529.4 L572.76 529.4 L572.89 529.4 L573.02 529.4 L573.16 529.4 L573.29 529.4 L573.42 529.4 L573.56 529.4 L573.69 529.4 L573.82 529.4 L573.96 529.4 L574.09 529.4 L574.22 529.4 L574.36 529.4 L574.49 529.4 L574.62 529.4 L574.76 529.4 L574.89 529.4 L575.02 529.4 L575.16 529.4 L575.29 529.4 L575.42 529.4 L575.56 529.4 L575.69 529.4 L575.82 529.4 L575.96 529.4 L576.09 529.4 L576.22 529.4 L576.36 529.4 L576.49 529.4 L576.62 529.4 L576.76 529.4 L576.89 529.4 L577.03 529.4 L577.16 529.4 L577.29 529.4 L577.43 529.4 L577.56 529.4 L577.69 529.4 L577.83 529.4 L577.96 529.4 L578.09 529.4 L578.23 529.4 L578.36 529.4 L578.49 529.4 L578.63 529.4 L578.76 529.4 L578.89 529.4 L579.03 529.4 L579.16 529.4 L579.29 529.4 L579.43 529.4 L579.56 529.4 L579.69 529.4 L579.83 529.4 L579.96 529.4 L580.09 529.4 L580.23 529.4 L580.36 529.4 L580.49 529.4 L580.63 529.4 L580.76 529.4 L580.89 529.4 L581.03 529.4 L581.16 529.4 L581.29 529.4 L581.43 529.4 L581.56 529.4 L581.69 529.4 L581.83 529.4 L581.96 529.4 L582.1 529.4 L582.23 529.4 L582.36 529.4 L582.5 529.4 L582.63 529.4 L582.76 529.4 L582.9 529.4 L583.03 529.4 L583.16 529.4 L583.3 529.4 L583.43 529.4 L583.56 529.4 L583.7 529.4 L583.83 529.4 L583.96 529.4 L584.1 529.4 L584.23 529.4 L584.36 529.4 L584.5 529.4 L584.63 529.4 L584.76 529.4 L584.9 529.4 L585.03 529.4 L585.16 529.4 L585.3 529.4 L585.43 529.4 L585.56 529.4 L585.7 529.4 L585.83 529.4 L585.96 529.4 L586.1 529.4 L586.23 529.4 L586.36 529.4 L586.5 529.4 L586.63 529.4 L586.76 529.4 L586.9 529.4 L587.03 529.4 L587.17 529.4 L587.3 529.4 L587.43 529.4 L587.57 529.4 L587.7 529.4 L587.83 529.4 L587.97 529.4 L588.1 529.4 L588.23 529.4 L588.37 529.4 L588.5 529.4 L588.63 529.4 L588.77 529.4 L588.9 529.4 L589.03 529.4 L589.17 529.4 L589.3 529.4 L589.43 529.4 L589.57 529.4 L589.7 529.4 L589.83 529.4 L589.97 529.4 L590.1 529.4 L590.23 529.4 L590.37 529.4 L590.5 529.4 L590.63 529.4 L590.77 529.4 L590.9 529.4 L591.03 529.4 L591.17 529.4 L591.3 529.4 L591.43 529.4 L591.57 529.4 L591.7 529.4 L591.83 529.4 L591.97 529.4 L592.1 529.4 L592.24 529.4 L592.37 529.4 L592.5 529.4 L592.64 529.4 L592.77 529.4 L592.9 529.4 L593.04 529.4 L593.17 529.4 L593.3 529.4 L593.44 529.4 L593.57 529.4 L593.7 529.4 L593.84 529.4 L593.97 529.4 L594.1 529.4 L594.24 529.4 L594.37 529.4 L594.5 529.4 L594.64 529.4 L594.77 529.4 L594.9 529.4 L595.04 529.4 L595.17 529.4 L595.3 529.4 L595.44 529.4 L595.57 529.4 L595.7 529.4 L595.84 529.4 L595.97 529.4 L596.1 529.4 L596.24 529.4 L596.37 529.4 L596.5 529.4 L596.64 529.4 L596.77 529.4 L596.91 529.4 L597.04 529.4 L597.17 529.4 L597.31 529.4 L597.44 529.4 L597.57 529.4 L597.71 529.4 L597.84 529.4 L597.97 529.4 L598.11 529.4 L598.24 529.4 L598.37 529.4 L598.51 529.4 L598.64 529.4 L598.77 529.4 L598.91 529.4 L599.04 529.4 L599.17 529.4 L599.31 529.4 L599.44 529.4 L599.57 529.4 L599.71 529.4 L599.84 529.4 L599.97 529.4 L600.11 529.4 L600.24 529.4 L600.37 529.4 L600.51 529.4 L600.64 529.4 L600.77 529.4 L600.91 529.4 L601.04 529.4 L601.17 529.4 L601.31 529.4 L601.44 529.4 L601.57 529.4 L601.71 529.4 L601.84 529.4 L601.98 529.4 L602.11 529.4 L602.24 529.4 L602.38 529.4 L602.51 529.4 L602.64 529.4 L602.78 529.4 L602.91 529.4 L603.04 529.4 L603.18 529.4 L603.31 529.4 L603.44 529.4 L603.58 529.4 L603.71 529.4 L603.84 529.4 L603.98 529.4 L604.11 529.4 L604.24 529.4 L604.38 529.4 L604.51 529.4 L604.64 529.4 L604.78 529.4 L604.91 529.4 L605.04 529.4 L605.18 529.4 L605.31 529.4 L605.44 529.4 L605.58 529.4 L605.71 529.4 L605.84 529.4 L605.98 529.4 L606.11 529.4 L606.24 529.4 L606.38 529.4 L606.51 529.4 L606.64 529.4 L606.78 529.4 L606.91 529.4 L607.05 529.4 L607.18 529.4 L607.31 529.4 L607.45 529.4 L607.58 529.4 L607.71 529.4 L607.85 529.4 L607.98 529.4 L608.11 529.4 L608.25 529.4 L608.38 529.4 L608.51 529.4 L608.65 529.4 L608.78 529.4 L608.91 529.4 L609.05 529.4 L609.18 529.4 L609.31 529.4 L609.45 529.4 L609.58 529.4 L609.71 529.4 L609.85 529.4 L609.98 529.4 L610.11 529.4 L610.25 529.4 L610.38 529.4 L610.51 529.4 L610.65 529.4 L610.78 529.4 L610.91 529.4 L611.05 529.4 L611.18 529.4 L611.31 529.4 L611.45 529.4 L611.58 529.4 L611.71 529.4 L611.85 529.4 L611.98 529.4 L612.12 529.4 L612.25 529.4 L612.38 529.4 L612.52 529.4 L612.65 529.4 L612.78 529.4 L612.92 529.4 L613.05 529.4 L613.18 529.4 L613.32 529.4 L613.45 529.4 L613.58 529.4 L613.72 529.4 L613.85 529.4 L613.98 529.4 L614.12 529.4 L614.25 529.4 L614.38 529.4 L614.52 529.4 L614.65 529.4 L614.78 529.4 L614.92 529.4 L615.05 529.4 L615.18 529.4 L615.32 529.4 L615.45 529.4 L615.58 529.4 L615.72 529.4 L615.85 529.4 L615.98 529.4 L616.12 529.4 L616.25 529.4 L616.38 529.4 L616.52 529.4 L616.65 529.4 L616.78 529.4 L616.92 529.4 L617.05 529.4 L617.19 529.4 L617.32 529.4 L617.45 529.4 L617.59 529.4 L617.72 529.4 L617.85 529.4 L617.99 529.4 L618.12 529.4 L618.25 529.4 L618.39 529.4 L618.52 529.4 L618.65 529.4 L618.79 529.4 L618.92 529.4 L619.05 529.4 L619.19 529.4 L619.32 529.4 L619.45 529.4 L619.59 529.4 L619.72 529.4 L619.85 529.4 L619.99 529.4 L620.12 529.4 L620.25 529.4 L620.39 529.4 L620.52 529.4 L620.65 529.4 L620.79 529.4 L620.92 529.4 L621.05 529.4 L621.19 529.4 L621.32 529.4 L621.45 529.4 L621.59 529.4 L621.72 529.4 L621.85 529.4 L621.99 529.4 L622.12 529.4 L622.26 529.4 L622.39 529.4 L622.52 529.4 L622.66 529.4 L622.79 529.4 L622.92 529.4 L623.06 529.4 L623.19 529.4 L623.32 529.4 L623.46 529.4 L623.59 529.4 L623.72 529.4 L623.86 529.4 L623.99 529.4 L624.12 529.4 L624.26 529.4 L624.39 529.4 L624.52 529.4 L624.66 529.4 L624.79 529.4 L624.92 529.4 L625.06 529.4 L625.19 529.4 L625.32 529.4 L625.46 529.4 L625.59 529.4 L625.72 529.4 L625.86 529.4 L625.99 529.4 L626.12 529.4 L626.26 529.4 L626.39 529.4 L626.52 529.4 L626.66 529.4 L626.79 529.4 L626.93 529.4 L627.06 529.4 L627.19 529.4 L627.33 529.4 L627.46 529.4 L627.59 529.4 L627.73 529.4 L627.86 529.4 L627.99 529.4 L628.13 529.4 L628.26 529.4 L628.39 529.4 L628.53 529.4 L628.66 529.4 L628.79 529.4 L628.93 529.4 L629.06 529.4 L629.19 529.4 L629.33 529.4 L629.46 529.4 L629.59 529.4 L629.73 529.4 L629.86 529.4 L629.99 529.4 L630.13 529.4 L630.26 529.4 L630.39 529.4 L630.53 529.4 L630.66 529.4 L630.79 529.4 L630.93 529.4 L631.06 529.4 L631.19 529.4 L631.33 529.4 L631.46 529.4 L631.59 529.4 L631.73 529.4 L631.86 529.4 L632 529.4 L632.13 529.4 L632.26 529.4 L632.4 529.4 L632.53 529.4 L632.66 529.4 L632.8 529.4 L632.93 529.4 L633.06 529.4 L633.2 529.4 L633.33 529.4 L633.46 529.4 L633.6 529.4 L633.73 529.4 L633.86 529.4 L634 529.4 L634.13 529.4 L634.26 529.4 L634.4 529.4 L634.53 529.4 L634.66 529.4 L634.8 529.4 L634.93 529.4 L635.06 529.4 L635.2 529.4 L635.33 529.4 L635.46 529.4 L635.6 529.4 L635.73 529.4 L635.86 529.4 L636 529.4 L636.13 529.4 L636.26 529.4 L636.4 529.4 L636.53 529.4 L636.66 529.4 L636.8 529.4 L636.93 529.4 L637.07 529.4 L637.2 529.4 L637.33 529.4 L637.47 529.4 L637.6 529.4 L637.73 529.4 L637.87 529.4 L638 529.4 L638.13 529.4 L638.27 529.4 L638.4 529.4 L638.53 529.4 L638.67 529.4 L638.8 529.4 L638.93 529.4 L639.07 529.4 L639.2 529.4 L639.33 529.4 L639.47 529.4 L639.6 529.4 L639.73 529.4 L639.87 529.4 L640 529.4 L640.13 529.4 L640.27 529.4 L640.4 529.4 L640.53 529.4 L640.67 529.4 L640.8 529.4 L640.93 529.4 L641.07 529.4 L641.2 529.4 L641.33 529.4 L641.47 529.4 L641.6 529.4 L641.73 529.4 L641.87 529.4 L642 529.4 L642.14 529.4 L642.27 529.4 L642.4 529.4 L642.54 529.4 L642.67 529.4 L642.8 529.4 L642.94 529.4 L643.07 529.4 L643.2 529.4 L643.34 529.4 L643.47 529.4 L643.6 529.4 L643.74 529.4 L643.87 529.4 L644 529.4 L644.14 529.4 L644.27 529.4 L644.4 529.4 L644.54 529.4 L644.67 529.4 L644.8 529.4 L644.94 529.4 L645.07 529.4 L645.2 529.4 L645.34 529.4 L645.47 529.4 L645.6 529.4 L645.74 529.4 L645.87 529.4 L646 529.4 L646.14 529.4 L646.27 529.4 L646.4 529.4 L646.54 529.4 L646.67 529.4 L646.8 529.4 L646.94 529.4 L647.07 529.4 L647.21 529.4 L647.34 529.4 L647.47 529.4 L647.61 529.4 L647.74 529.4 L647.87 529.4 L648.01 529.4 L648.14 529.4 L648.27 529.4 L648.41 529.4 L648.54 529.4 L648.67 529.4 L648.81 529.4 L648.94 529.4 L649.07 529.4 L649.21 529.4 L649.34 529.4 L649.47 529.4 L649.61 529.4 L649.74 529.4 L649.87 529.4 L650.01 529.4 L650.14 529.4 L650.27 529.4 L650.41 529.4 L650.54 529.4 L650.67 529.4 L650.81 529.4 L650.94 529.4 L651.07 529.4 L651.21 529.4 L651.34 529.4 L651.47 529.4 L651.61 529.4 L651.74 529.4 L651.87 529.4 L652.01 529.4 L652.14 529.4 L652.28 529.4 L652.41 529.4 L652.54 529.4 L652.68 529.4 L652.81 529.4 L652.94 529.4 L653.08 529.4 L653.21 529.4 L653.34 529.4 L653.48 529.4 L653.61 529.4 L653.74 529.4 L653.88 529.4 L654.01 529.4 L654.14 529.4 L654.28 529.4 L654.41 529.4 L654.54 529.4 L654.68 529.4 L654.81 529.4 L654.94 529.4 L655.08 529.4 L655.21 529.4 L655.34 529.4 L655.48 529.4 L655.61 529.4 L655.74 529.4 L655.88 529.4 L656.01 529.4 L656.14 529.4 L656.28 529.4 L656.41 529.4 L656.54 529.4 L656.68 529.4 L656.81 529.4 L656.95 529.4 L657.08 529.4 L657.21 529.4 L657.35 529.4 L657.48 529.4 L657.61 529.4 L657.75 529.4 L657.88 529.4 L658.01 529.4 L658.15 529.4 L658.28 529.4 L658.41 529.4 L658.55 529.4 L658.68 529.4 L658.81 529.4 L658.95 529.4 L659.08 529.4 L659.21 529.4 L659.35 529.4 L659.48 529.4 L659.61 529.4 L659.75 529.4 L659.88 529.4 L660.01 529.4 L660.15 529.4 L660.28 529.4 L660.41 529.4 L660.55 529.4 L660.68 529.4 L660.81 529.4 L660.95 529.4 L661.08 529.4 L661.21 529.4 L661.35 529.4 L661.48 529.4 L661.61 529.4 L661.75 529.4 L661.88 529.4 L662.02 529.4 L662.15 529.4 L662.28 529.4 L662.42 529.4 L662.55 529.4 L662.68 529.4 L662.82 529.4 L662.95 529.4 L663.08 529.4 L663.22 529.4 L663.35 529.4 L663.48 529.4 L663.62 529.4 L663.75 529.4 L663.88 529.4 L664.02 529.4 L664.15 529.4 L664.28 529.4 L664.42 529.4 L664.55 529.4 L664.68 529.4 L664.82 529.4 L664.95 529.4 L665.08 529.4 L665.22 529.4 L665.35 529.4 L665.48 529.4 L665.62 529.4 L665.75 529.4 L665.88 529.4 L666.02 529.4 L666.15 529.4 L666.28 529.4 L666.42 529.4 L666.55 529.4 L666.68 529.4 L666.82 529.4 L666.95 529.4 L667.09 529.4 L667.22 529.4 L667.35 529.4 L667.49 529.4 L667.62 529.4 L667.75 529.4 L667.89 529.4 L668.02 529.4 L668.15 529.4 L668.29 529.4 L668.42 529.4 L668.55 529.4 L668.69 529.4 L668.82 529.4 L668.95 529.4 L669.09 529.4 L669.22 529.4 L669.35 529.4 L669.49 529.4 L669.62 529.4 L669.75 529.4 L669.89 529.4 L670.02 529.4 L670.15 529.4 L670.29 529.4 L670.42 529.4 L670.55 529.4 L670.69 529.4 L670.82 529.4 L670.95 529.4 L671.09 529.4 L671.22 529.4 L671.35 529.4 L671.49 529.4 L671.62 529.4 L671.75 529.4 L671.89 529.4 L672.02 529.4 L672.16 529.4 L672.29 529.4 L672.42 529.4 L672.56 529.4 L672.69 529.4 L672.82 529.4 L672.96 529.4 L673.09 529.4 L673.22 529.4 L673.36 529.4 L673.49 529.4 L673.62 529.4 L673.76 529.4 L673.89 529.4 L674.02 529.4 L674.16 529.4 L674.29 529.4 L674.42 529.4 L674.56 529.4 L674.69 529.4 L674.82 529.4 L674.96 529.4 L675.09 529.4 L675.22 529.4 L675.36 529.4 L675.49 529.4 L675.62 529.4 L675.76 529.4 L675.89 529.4 L676.02 529.4 L676.16 529.4 L676.29 529.4 L676.42 529.4 L676.56 529.4 L676.69 529.4 L676.82 529.4 L676.96 529.4 L677.09 529.4 L677.23 529.4 L677.36 529.4 L677.49 529.4 L677.63 529.4 L677.76 529.4 L677.89 529.4 L678.03 529.4 L678.16 529.4 L678.29 529.4 L678.43 529.4 L678.56 529.4 L678.69 529.4 L678.83 529.4 L678.96 529.4 L679.09 529.4 L679.23 529.4 L679.36 529.4 L679.49 529.4 L679.63 529.4 L679.76 529.4 L679.89 529.4 L680.03 529.4 L680.16 529.4 L680.29 529.4 L680.43 529.4 L680.56 529.4 L680.69 529.4 L680.83 529.4 L680.96 529.4 L681.09 529.4 L681.23 529.4 L681.36 529.4 L681.49 529.4 L681.63 529.4 L681.76 529.4 L681.89 529.4 L682.03 529.4 L682.16 529.4 L682.3 529.4 L682.43 529.4 L682.56 529.4 L682.7 529.4 L682.83 529.4 L682.96 529.4 L683.1 529.4 L683.23 529.4 L683.36 529.4 L683.5 529.4 L683.63 529.4 L683.76 529.4 L683.9 529.4 L684.03 529.4 L684.16 529.4 L684.3 529.4 L684.43 529.4 L684.56 529.4 L684.7 529.4 L684.83 529.4 L684.96 529.4 L685.1 529.4 L685.23 529.4 L685.36 529.4 L685.5 529.4 L685.63 529.4 L685.76 529.4 L685.9 529.4 L686.03 529.4 L686.16 529.4 L686.3 529.4 L686.43 529.4 L686.56 529.4 L686.7 529.4 L686.83 529.4 L686.97 529.4 L687.1 529.4 L687.23 529.4 L687.37 529.4 L687.5 529.4 L687.63 529.4 L687.77 529.4 L687.9 529.4 L688.03 529.4 L688.17 529.4 L688.3 529.4 L688.43 529.4 L688.57 529.4 L688.7 529.4 L688.83 529.4 L688.97 529.4 L689.1 529.4 L689.23 529.4 L689.37 529.4 L689.5 529.4 L689.63 529.4 L689.77 529.4 L689.9 529.4 L690.03 529.4 L690.17 529.4 L690.3 529.4 L690.43 529.4 L690.57 529.4 L690.7 529.4 L690.83 529.4 L690.97 529.4 L691.1 529.4 L691.23 529.4 L691.37 529.4 L691.5 529.4 L691.63 529.4 L691.77 529.4 L691.9 529.4 L692.04 529.4 L692.17 529.4 L692.3 529.4 L692.44 529.4 L692.57 529.4 L692.7 529.4 L692.84 529.4 L692.97 529.4 L693.1 529.4 L693.24 529.4 L693.37 529.4 L693.5 529.4 L693.64 529.4 L693.77 529.4 L693.9 529.4 L694.04 529.4 L694.17 529.4 L694.3 529.4 L694.44 529.4 L694.57 529.4 L694.7 529.4 L694.84 529.4 L694.97 529.4 L695.1 529.4 L695.24 529.4 L695.37 529.4 L695.5 529.4 L695.64 529.4 L695.77 529.4 L695.9 529.4 L696.04 529.4 L696.17 529.4 L696.3 529.4 L696.44 529.4 L696.57 529.4 L696.7 529.4 L696.84 529.4 L696.97 529.4 L697.11 529.4 L697.24 529.4 L697.37 529.4 L697.51 529.4 L697.64 529.4 L697.77 529.4 L697.91 529.4 L698.04 529.4 L698.17 529.4 L698.31 529.4 L698.44 529.4 L698.57 529.4 L698.71 529.4 L698.84 529.4 L698.97 529.4 L699.11 529.4 L699.24 529.4 L699.37 529.4 L699.51 529.4 L699.64 529.4 L699.77 529.4 L699.91 529.4 L700.04 529.4 L700.17 529.4 L700.31 529.4 L700.44 529.4 L700.57 529.4 L700.71 529.4 L700.84 529.4 L700.97 529.4 L701.11 529.4 L701.24 529.4 L701.37 529.4 L701.51 529.4 L701.64 529.4 L701.77 529.4 L701.91 529.4 L702.04 529.4 L702.18 529.4 L702.31 529.4 L702.44 529.4 L702.58 529.4 L702.71 529.4 L702.84 529.4 L702.98 529.4 L703.11 529.4 L703.24 529.4 L703.38 529.4 L703.51 529.4 L703.64 529.4 L703.78 529.4 L703.91 529.4 L704.04 529.4 L704.18 529.4 L704.31 529.4 L704.44 529.4 L704.58 529.4 L704.71 529.4 L704.84 529.4 L704.98 529.4 L705.11 529.4 L705.24 529.4 L705.38 529.4 L705.51 529.4 L705.64 529.4 L705.78 529.4 L705.91 529.4 L706.04 529.4 L706.18 529.4 L706.31 529.4 L706.44 529.4 L706.58 529.4 L706.71 529.4 L706.84 529.4 L706.98 529.4 L707.11 529.4 L707.25 529.4 L707.38 529.4 L707.51 529.4 L707.65 529.4 L707.78 529.4 L707.91 529.4 L708.05 529.4 L708.18 529.4 L708.31 529.4 L708.45 529.4 L708.58 529.4 L708.71 529.4 L708.85 529.4 L708.98 529.4 L709.11 529.4 L709.25 529.4 L709.38 529.4 L709.51 529.4 L709.65 529.4 L709.78 529.4 L709.91 529.4 L710.05 529.4 L710.18 529.4 L710.31 529.4 L710.45 529.4 L710.58 529.4 L710.71 529.4 L710.85 529.4 L710.98 529.4 L711.11 529.4 L711.25 529.4 L711.38 529.4 L711.51 529.4 L711.65 529.4 L711.78 529.4 L711.92 529.4 L712.05 529.4 L712.18 529.4 L712.32 529.4 L712.45 529.4 L712.58 529.4 L712.72 529.4 L712.85 529.4 L712.98 529.4 L713.12 529.4 L713.25 529.4 L713.38 529.4 L713.52 529.4 L713.65 529.4 L713.78 529.4 L713.92 529.4 L714.05 529.4 L714.18 529.4 L714.32 529.4 L714.45 529.4 L714.58 529.4 L714.72 529.4 L714.85 529.4 L714.98 529.4 L715.12 529.4 L715.25 529.4 L715.38 529.4 L715.52 529.4 L715.65 529.4 L715.78 529.4 L715.92 529.4 L716.05 529.4 L716.18 529.4 L716.32 529.4 L716.45 529.4 L716.58 529.4 L716.72 529.4 L716.85 529.4 L716.99 529.4 L717.12 529.4 L717.25 529.4 L717.39 529.4 L717.52 529.4 L717.65 529.4 L717.79 529.4 L717.92 529.4 L718.05 529.4 L718.19 529.4 L718.32 529.4 L718.45 529.4 L718.59 529.4 L718.72 529.4 L718.85 529.4 L718.99 529.4 L719.12 529.4 L719.25 529.4 L719.39 529.4 L719.52 529.4 L719.65 529.4 L719.79 529.4 L719.92 529.4 L720.05 529.4 L720.19 529.4 L720.32 529.4 L720.45 529.4 L720.59 529.4 L720.72 529.4 L720.85 529.4 L720.99 529.4 L721.12 529.4 L721.25 529.4 L721.39 529.4 L721.52 529.4 L721.65 529.4 L721.79 529.4 L721.92 529.4 L722.06 529.4 L722.19 529.4 L722.32 529.4 L722.46 529.4 L722.59 529.4 L722.72 529.4 L722.86 529.4 L722.99 529.4 L723.12 529.4 L723.26 529.4 L723.39 529.4 L723.52 529.4 L723.66 529.4 L723.79 529.4 L723.92 529.4 L724.06 529.4 L724.19 529.4 L724.32 529.4 L724.46 529.4 L724.59 529.4 L724.72 529.4 L724.86 529.4 L724.99 529.4 L725.12 529.4 L725.26 529.4 L725.39 529.4 L725.52 529.4 L725.66 529.4 L725.79 529.4 L725.92 529.4 L726.06 529.4 L726.19 529.4 L726.32 529.4 L726.46 529.4 L726.59 529.4 L726.72 529.4 L726.86 529.4 L726.99 529.4 L727.13 529.4 L727.26 529.4 L727.39 529.4 L727.53 529.4 L727.66 529.4 L727.79 529.4 L727.93 529.4 L728.06 529.4 L728.19 529.4 L728.33 529.4 L728.46 529.4 L728.59 529.4 L728.73 529.4 L728.86 529.4 L728.99 529.4 L729.13 529.4 L729.26 529.4 L729.39 529.4 L729.53 529.4 L729.66 529.4 L729.79 529.4 L729.93 529.4 L730.06 529.4 L730.19 529.4 L730.33 529.4 L730.46 529.4 L730.59 529.4 L730.73 529.4 L730.86 529.4 L730.99 529.4 L731.13 529.4 L731.26 529.4 L731.39 529.4 L731.53 529.4 L731.66 529.4 L731.79 529.4 L731.93 529.4 L732.06 529.4 L732.2 529.4 L732.33 529.4 L732.46 529.4 L732.6 529.4 L732.73 529.4 L732.86 529.4 L733 529.4 L733.13 529.4 L733.26 529.4 L733.4 529.4 L733.53 529.4 L733.66 529.4 L733.8 529.4 L733.93 529.4 L734.06 529.4 L734.2 529.4 L734.33 529.4 L734.46 529.4 L734.6 529.4 L734.73 529.4 L734.86 529.4 L735 529.4 L735.13 529.4 L735.26 529.4 L735.4 529.4 L735.53 529.4 L735.66 529.4 L735.8 529.4 L735.93 529.4 L736.06 529.4 L736.2 529.4 L736.33 529.4 L736.46 529.4 L736.6 529.4 L736.73 529.4 L736.86 529.4 L737 529.4 L737.13 529.4 L737.27 529.4 L737.4 529.4 L737.53 529.4 L737.67 529.4 L737.8 529.4 L737.93 529.4 L738.07 529.4 L738.2 529.4 L738.33 529.4 L738.47 529.4 L738.6 529.4 L738.73 529.4 L738.87 529.4 L739 529.4 L739.13 529.4 L739.27 529.4 L739.4 529.4 L739.53 529.4 L739.67 529.4 L739.8 529.4 L739.93 529.4 L740.07 529.4 L740.2 529.4 L740.33 529.4 L740.47 529.4 L740.6 529.4 L740.73 529.4 L740.87 529.4 L741 529.4 L741.13 529.4 L741.27 529.4 L741.4 529.4 L741.53 529.4 L741.67 529.4 L741.8 529.4 L741.94 529.4 L742.07 529.4 L742.2 529.4 L742.34 529.4 L742.47 529.4 L742.6 529.4 L742.74 529.4 L742.87 529.4 L743 529.4 L743.14 529.4 L743.27 529.4 L743.4 529.4 L743.54 529.4 L743.67 529.4 L743.8 529.4 L743.94 529.4 L744.07 529.4 L744.2 529.4 L744.34 529.4 L744.47 529.4 L744.6 529.4 L744.74 529.4 L744.87 529.4 L745 529.4 L745.14 529.4 L745.27 529.4 L745.4 529.4 L745.54 529.4 L745.67 529.4 L745.8 529.4 L745.94 529.4 L746.07 529.4 L746.2 529.4 L746.34 529.4 L746.47 529.4 L746.6 529.4 L746.74 529.4 L746.87 529.4 L747.01 529.4 L747.14 529.4 L747.27 529.4 L747.41 529.4 L747.54 529.4 L747.67 529.4 L747.81 529.4 L747.94 529.4 L748.07 529.4 L748.21 529.4 L748.34 529.4 L748.47 529.4 L748.61 529.4 L748.74 529.4 L748.87 529.4 L749.01 529.4 L749.14 529.4 L749.27 529.4 L749.41 529.4 L749.54 529.4 L749.67 529.4 L749.81 529.4 L749.94 529.4 L750.07 529.4 L750.21 529.4 L750.34 529.4 L750.47 529.4 L750.61 529.4 L750.74 529.4 L750.87 529.4 L751.01 529.4 L751.14 529.4 L751.27 529.4 L751.41 529.4 L751.54 529.4 L751.67 529.4 L751.81 529.4 L751.94 529.4 L752.08 529.4 L752.21 529.4 L752.34 529.4 L752.48 529.4 L752.61 529.4 L752.74 529.4 L752.88 529.4 L753.01 529.4 L753.14 529.4 L753.28 529.4 L753.41 529.4 L753.54 529.4 L753.68 529.4 L753.81 529.4 L753.94 529.4 L754.08 529.4 L754.21 529.4 L754.34 529.4 L754.48 529.4 L754.61 529.4 L754.74 529.4 L754.88 529.4 L755.01 529.4 L755.14 529.4 L755.28 529.4 L755.41 529.4 L755.54 529.4 L755.68 529.4 L755.81 529.4 L755.94 529.4 L756.08 529.4 L756.21 529.4 L756.34 529.4 L756.48 529.4 L756.61 529.4 L756.74 529.4 L756.88 529.4 L757.01 529.4 L757.15 529.4 L757.28 529.4 L757.41 529.4 L757.55 529.4 L757.68 529.4 L757.81 529.4 L757.95 529.4 L758.08 529.4 L758.21 529.4 L758.35 529.4 L758.48 529.4 L758.61 529.4 L758.75 529.4 L758.88 529.4 L759.01 529.4 L759.15 529.4 L759.28 529.4 L759.41 529.4 L759.55 529.4 L759.68 529.4 L759.81 529.4 L759.95 529.4 L760.08 529.4 L760.21 529.4 L760.35 529.4 L760.48 529.4 L760.61 529.4 L760.75 529.4 L760.88 529.4 L761.01 529.4 L761.15 529.4 L761.28 529.4 L761.41 529.4 L761.55 529.4 L761.68 529.4 L761.81 529.4 L761.95 529.4 L762.08 529.4 L762.22 529.4 L762.35 529.4 L762.48 529.4 L762.62 529.4 L762.75 529.4 L762.88 529.4 L763.02 529.4 L763.15 529.4 L763.28 529.4 L763.42 529.4 L763.55 529.4 L763.68 529.4 L763.82 529.4 L763.95 529.4 L764.08 529.4 L764.22 529.4 L764.35 529.4 L764.48 529.4 L764.62 529.4 L764.75 529.4 L764.88 529.4 L765.02 529.4 L765.15 529.4 L765.28 529.4 L765.42 529.4 L765.55 529.4 L765.68 529.4 L765.82 529.4 L765.95 529.4 L766.08 529.4 L766.22 529.4 L766.35 529.4 L766.48 529.4 L766.62 529.4 L766.75 529.4 L766.88 529.4 L767.02 529.4 L767.15 529.4 L767.29 529.4 L767.42 529.4 L767.55 529.4 L767.69 529.4 L767.82 529.4 L767.95 529.4 L768.09 529.4 L768.22 529.4 L768.35 529.4 L768.49 529.4 L768.62 529.4 L768.75 529.4 L768.89 529.4 L769.02 529.4 L769.15 529.4 L769.29 529.4 L769.42 529.4 L769.55 529.4 L769.69 529.4 L769.82 529.4 L769.95 529.4 L770.09 529.4 L770.22 529.4 L770.35 529.4 L770.49 529.4 L770.62 529.4 L770.75 529.4 L770.89 529.4 L771.02 529.4 L771.15 529.4 L771.29 529.4 L771.42 529.4 L771.55 529.4 L771.69 529.4 L771.82 529.4 L771.96 529.4 L772.09 529.4 L772.22 529.4 L772.36 529.4 L772.49 529.4 L772.62 529.4 L772.76 529.4 L772.89 529.4 L773.02 529.4 L773.16 529.4 L773.29 529.4 L773.42 529.4 L773.56 529.4 L773.69 529.4 L773.82 529.4 L773.96 529.4 L774.09 529.4 L774.22 529.4 L774.36 529.4 L774.49 529.4 L774.62 529.4 L774.76 529.4 L774.89 529.4 L775.02 529.4 L775.16 529.4 L775.29 529.4 L775.42 529.4 L775.56 529.4 L775.69 529.4 L775.82 529.4 L775.96 529.4 L776.09 529.4 L776.22 529.4 L776.36 529.4 L776.49 529.4 L776.62 529.4 L776.76 529.4 L776.89 529.4 L777.03 529.4 L777.16 529.4 L777.29 529.4 L777.43 529.4 L777.56 529.4 L777.69 529.4 L777.83 529.4 L777.96 529.4 L778.09 529.4 L778.23 529.4 L778.36 529.4 L778.49 529.4 L778.63 529.4 L778.76 529.4 L778.89 529.4 L779.03 529.4 L779.16 529.4 L779.29 529.4 L779.43 529.4 L779.56 529.4 L779.69 529.4 L779.83 529.4 L779.96 529.4 L780.09 529.4 L780.23 529.4 L780.36 529.4 L780.49 529.4 L780.63 529.4 L780.76 529.4 L780.89 529.4 L781.03 529.4 L781.16 529.4 L781.29 529.4 L781.43 529.4 L781.56 529.4 L781.69 529.4 L781.83 529.4 L781.96 529.4 L782.1 529.4 L782.23 529.4 L782.36 529.4 L782.5 529.4 L782.63 529.4 L782.76 529.4 L782.9 529.4 L783.03 529.4 L783.16 529.4 L783.3 529.4 L783.43 529.4 L783.56 529.4 L783.7 529.4 L783.83 529.4 L783.96 529.4 L784.1 529.4 L784.23 529.4 L784.36 529.4 L784.5 529.4 L784.63 529.4 L784.76 529.4 L784.9 529.4 L785.03 529.4 L785.16 529.4 L785.3 529.4 L785.43 529.4 L785.56 529.4 L785.7 529.4 L785.83 529.4 L785.96 529.4 L786.1 529.4 L786.23 529.4 L786.36 529.4 L786.5 529.4 L786.63 529.4 L786.76 529.4 L786.9 529.4 L787.03 529.4 L787.17 529.4 L787.3 529.4 L787.43 529.4 L787.57 529.4 L787.7 529.4 L787.83 529.4 L787.97 529.4 L788.1 529.4 L788.23 529.4 L788.37 529.4 L788.5 529.4 L788.63 529.4 L788.77 529.4 L788.9 529.4 L789.03 529.4 L789.17 529.4 L789.3 529.4 L789.43 529.4 L789.57 529.4 L789.7 529.4 L789.83 529.4 L789.97 529.4 L790.1 529.4 L790.23 529.4 L790.37 529.4 L790.5 529.4 L790.63 529.4 L790.77 529.4 L790.9 529.4 L791.03 529.4 L791.17 529.4 L791.3 529.4 L791.43 529.4 L791.57 529.4 L791.7 529.4 L791.83 529.4 L791.97 529.4 L792.1 529.4 L792.24 529.4 L792.37 529.4 L792.5 529.4 L792.64 529.4 L792.77 529.4 L792.9 529.4 L793.04 529.4 L793.17 529.4 L793.3 529.4 L793.44 529.4 L793.57 529.4 L793.7 529.4 L793.84 529.4 L793.97 529.4 L794.1 529.4 L794.24 529.4 L794.37 529.4 L794.5 529.4 L794.64 529.4 L794.77 529.4 L794.9 529.4 L795.04 529.4 L795.17 529.4 L795.3 529.4 L795.44 529.4 L795.57 529.4 L795.7 529.4 L795.84 529.4 L795.97 529.4 L796.1 529.4 L796.24 529.4 L796.37 529.4 L796.5 529.4 L796.64 529.4 L796.77 529.4 L796.9 529.4 L797.04 529.4 L797.17 529.4 L797.31 529.4 L797.44 529.4 L797.57 529.4 L797.71 529.4 L797.84 529.4 L797.97 529.4 L798.11 529.4 L798.24 529.4 L798.37 529.4 L798.51 529.4 L798.64 529.4 L798.77 529.4 L798.91 529.4 L799.04 529.4 L799.17 529.4 L799.31 529.4 L799.44 529.4 L799.57 529.4 L799.71 529.4 L799.84 529.4 L799.97 529.4 L800.11 529.4 L800.24 529.4 L800.37 529.4 L800.51 529.4 L800.64 529.4 L800.77 529.4 L800.91 529.4 L801.04 529.4 L801.17 529.4 L801.31 529.4 L801.44 529.4 L801.57 529.4 L801.71 529.4 L801.84 529.4 L801.98 529.4 L802.11 529.4 L802.24 529.4 L802.38 529.4 L802.51 529.4 L802.64 529.4 L802.78 529.4 L802.91 529.4 L803.04 529.4 L803.18 529.4 L803.31 529.4 L803.44 529.4 L803.58 529.4 L803.71 529.4 L803.84 529.4 L803.98 529.4 L804.11 529.4 L804.24 529.4 L804.38 529.4 L804.51 529.4 L804.64 529.4 L804.78 529.4 L804.91 529.4 L805.04 529.4 L805.18 529.4 L805.31 529.4 L805.44 529.4 L805.58 529.4 L805.71 529.4 L805.84 529.4 L805.98 529.4 L806.11 529.4 L806.24 529.4 L806.38 529.4 L806.51 529.4 L806.64 529.4 L806.78 529.4 L806.91 529.4 L807.05 529.4 L807.18 529.4 L807.31 529.4 L807.45 529.4 L807.58 529.4 L807.71 529.4 L807.85 529.4 L807.98 529.4 L808.11 529.4 L808.25 529.4 L808.38 529.4 L808.51 529.4 L808.65 529.4 L808.78 529.4 L808.91 529.4 L809.05 529.4 L809.18 529.4 L809.31 529.4 L809.45 529.4 L809.58 529.4 L809.71 529.4 L809.85 529.4 L809.98 529.4 L810.11 529.4 L810.25 529.4 L810.38 529.4 L810.51 529.4 L810.65 529.4 L810.78 529.4 L810.91 529.4 L811.05 529.4 L811.18 529.4 L811.31 529.4 L811.45 529.4 L811.58 529.4 L811.71 529.4 L811.85 529.4 L811.98 529.4 L812.12 529.4 L812.25 529.4 L812.38 529.4 L812.52 529.4 L812.65 529.4 L812.78 529.4 L812.92 529.4 L813.05 529.4 L813.18 529.4 L813.32 529.4 L813.45 529.4 L813.58 529.4 L813.72 529.4 L813.85 529.4 L813.98 529.4 L814.12 529.4 L814.25 529.4 L814.38 529.4 L814.52 529.4 L814.65 529.4 L814.78 529.4 L814.92 529.4 L815.05 529.4 L815.18 529.4 L815.32 529.4 L815.45 529.4 L815.58 529.4 L815.72 529.4 L815.85 529.4 L815.98 529.4 L816.12 529.4 L816.25 529.4 L816.38 529.4 L816.52 529.4 L816.65 529.4 L816.78 529.4 L816.92 529.4 L817.05 529.4 L817.19 529.4 L817.32 529.4 L817.45 529.4 L817.59 529.4 L817.72 529.4 L817.85 529.4 L817.99 529.4 L818.12 529.4 L818.25 529.4 L818.39 529.4 L818.52 529.4 L818.65 529.4 L818.79 529.4 L818.92 529.4 L819.05 529.4 L819.19 529.4 L819.32 529.4 L819.45 529.4 L819.59 529.4 L819.72 529.4 L819.85 529.4 L819.99 529.4 L820.12 529.4 L820.25 529.4 L820.39 529.4 L820.52 529.4 L820.65 529.4 L820.79 529.4 L820.92 529.4 L821.05 529.4 L821.19 529.4 L821.32 529.4 L821.45 529.4 L821.59 529.4 L821.72 529.4 L821.85 529.4 L821.99 529.4 L822.12 529.4 L822.26 529.4 L822.39 529.4 L822.52 529.4 L822.66 529.4 L822.79 529.4 L822.92 529.4 L823.06 529.4 L823.19 529.4 L823.32 529.4 L823.46 529.4 L823.59 529.4 L823.72 529.4 L823.86 529.4 L823.99 529.4 L824.12 529.4 L824.26 529.4 L824.39 529.4 L824.52 529.4 L824.66 529.4 L824.79 529.4 L824.92 529.4 L825.06 529.4 L825.19 529.4 L825.32 529.4 L825.46 529.4 L825.59 529.4 L825.72 529.4 L825.86 529.4 L825.99 529.4 L826.12 529.4 L826.26 529.4 L826.39 529.4 L826.52 529.4 L826.66 529.4 L826.79 529.4 L826.92 529.4 L827.06 529.4 L827.19 529.4 L827.33 529.4 L827.46 529.4 L827.59 529.4 L827.73 529.4 L827.86 529.4 L827.99 529.4 L828.13 529.4 L828.26 529.4 L828.39 529.4 L828.53 529.4 L828.66 529.4 L828.79 529.4 L828.93 529.4 L829.06 529.4 L829.19 529.4 L829.33 529.4 L829.46 529.4 L829.59 529.4 L829.73 529.4 L829.86 529.4 L829.99 529.4 L830.13 529.4 L830.26 529.4 L830.39 529.4 L830.53 529.4 L830.66 529.4 L830.79 529.4 L830.93 529.4 L831.06 529.4 L831.19 529.4 L831.33 529.4 L831.46 529.4 L831.59 529.4 L831.73 529.4 L831.86 529.4 L832 529.4 L832.13 529.4 L832.26 529.4 L832.4 529.4 L832.53 529.4 L832.66 529.4 L832.8 529.4 L832.93 529.4 L833.06 529.4 L833.2 529.4 L833.33 529.4 L833.46 529.4 L833.6 529.4 L833.73 529.4 L833.86 529.4 L834 529.4 L834.13 529.4 L834.26 529.4 L834.4 529.4 L834.53 529.4 L834.66 529.4 L834.8 529.4 L834.93 529.4 L835.06 529.4 L835.2 529.4 L835.33 529.4 L835.46 529.4 L835.6 529.4 L835.73 529.4 L835.86 529.4 L836 529.4 L836.13 529.4 L836.26 529.4 L836.4 529.4 L836.53 529.4 L836.66 529.4 L836.8 529.4 L836.93 529.4 L837.07 529.4 L837.2 529.4 L837.33 529.4 L837.47 529.4 L837.6 529.4 L837.73 529.4 L837.87 529.4 L838 529.4 L838.13 529.4 L838.27 529.4 L838.4 529.4 L838.53 529.4 L838.67 529.4 L838.8 529.4 L838.93 529.4 L839.07 529.4 L839.2 529.4 L839.33 529.4 L839.47 529.4 L839.6 529.4 L839.73 529.4 L839.87 529.4 L840 529.4 L840.13 529.4 L840.27 529.4 L840.4 529.4 L840.53 529.4 L840.67 529.4 L840.8 529.4 L840.93 529.4 L841.07 529.4 L841.2 529.4 L841.33 529.4 L841.47 529.4 L841.6 529.4 L841.73 529.4 L841.87 529.4 L842 529.4 L842.14 529.4 L842.27 529.4 L842.4 529.4 L842.54 529.4 L842.67 529.4 L842.8 529.4 L842.94 529.4 L843.07 529.4 L843.2 529.4 L843.34 529.4 L843.47 529.4 L843.6 529.4 L843.74 529.4 L843.87 529.4 L844 529.4 L844.14 529.4 L844.27 529.4 L844.4 529.4 L844.54 529.4 L844.67 529.4 L844.8 529.4 L844.94 529.4 L845.07 529.4 L845.2 529.4 L845.34 529.4 L845.47 529.4 L845.6 529.4 L845.74 529.4 L845.87 529.4 L846 529.4 L846.14 529.4 L846.27 529.4 L846.4 529.4 L846.54 529.4 L846.67 529.4 L846.8 529.4 L846.94 529.4 L847.07 529.4 L847.21 529.4 L847.34 529.4 L847.47 529.4 L847.61 529.4 L847.74 529.4 L847.87 529.4 L848.01 529.4 L848.14 529.4 L848.27 529.4 L848.41 529.4 L848.54 529.4 L848.67 529.4 L848.81 529.4 L848.94 529.4 L849.07 529.4 L849.21 529.4 L849.34 529.4 L849.47 529.4 L849.61 529.4 L849.74 529.4 L849.87 529.4 L850.01 529.4 L850.14 529.4 L850.27 529.4 L850.41 529.4 L850.54 529.4 L850.67 529.4 L850.81 529.4 L850.94 529.4 L851.07 529.4 L851.21 529.4 L851.34 529.4 L851.47 529.4 L851.61 529.4 L851.74 529.4 L851.87 529.4 L852.01 529.4 L852.14 529.4 L852.28 529.4 L852.41 529.4 L852.54 529.4 L852.68 529.4 L852.81 529.4 L852.94 529.4 L853.08 529.4 L853.21 529.4 L853.34 529.4 L853.48 529.4 L853.61 529.4 L853.74 529.4 L853.88 529.4 L854.01 529.4 L854.14 529.4 L854.28 529.4 L854.41 529.4 L854.54 529.4 L854.68 529.4 L854.81 529.4 L854.94 529.4 L855.08 529.4 L855.21 529.4 L855.34 529.4 L855.48 529.4 L855.61 529.4 L855.74 529.4 L855.88 529.4 L856.01 529.4 L856.14 529.4 L856.28 529.4 L856.41 529.4 L856.54 529.4 L856.68 529.4 L856.81 529.4 L856.94 529.4 L857.08 529.4 L857.21 529.4 L857.35 529.4 L857.48 529.4 L857.61 529.4 L857.75 529.4 L857.88 529.4 L858.01 529.4 L858.15 529.4 L858.28 529.4 L858.41 529.4 L858.55 529.4 L858.68 529.4 L858.81 529.4 L858.95 529.4 L859.08 529.4 L859.21 529.4 L859.35 529.4 L859.48 529.4 L859.61 529.4 L859.75 529.4 L859.88 529.4 L860.01 529.4 L860.15 529.4 L860.28 529.4 L860.41 529.4 L860.55 529.4 L860.68 529.4 L860.81 529.4 L860.95 529.4 L861.08 529.4 L861.21 529.4 L861.35 529.4 L861.48 529.4 L861.61 529.4 L861.75 529.4 L861.88 529.4 L862.02 529.4 L862.15 529.4 L862.28 529.4 L862.42 529.4 L862.55 529.4 L862.68 529.4 L862.82 529.4 L862.95 529.4 L863.08 529.4 L863.22 529.4 L863.35 529.4 L863.48 529.4 L863.62 529.4 L863.75 529.4 L863.88 529.4 L864.02 529.4 L864.15 529.4 L864.28 529.4 L864.42 529.4 L864.55 529.4 L864.68 529.4 L864.82 529.4 L864.95 529.4 L865.08 529.4 L865.22 529.4 L865.35 529.4 L865.48 529.4 L865.62 529.4 L865.75 529.4 L865.88 529.4 L866.02 529.4 L866.15 529.4 L866.28 529.4 L866.42 529.4 L866.55 529.4 L866.68 529.4 L866.82 529.4 L866.95 529.4 L867.09 529.4 L867.22 529.4 L867.35 529.4 L867.49 529.4 L867.62 529.4 L867.75 529.4 L867.89 529.4 L868.02 529.4 L868.15 529.4 L868.29 529.4 L868.42 529.4 L868.55 529.4 L868.69 529.4 L868.82 529.4 L868.95 529.4 L869.09 529.4 L869.22 529.4 L869.35 529.4 L869.49 529.4 L869.62 529.4 L869.75 529.4 L869.89 529.4 L870.02 529.4 L870.15 529.4 L870.29 529.4 L870.42 529.4 L870.55 529.4 L870.69 529.4 L870.82 529.4 L870.95 529.4 L871.09 529.4 L871.22 529.4 L871.35 529.4 L871.49 529.4 L871.62 529.4 L871.75 529.4 L871.89 529.4 L872.02 529.4 L872.16 529.4 L872.29 529.4 L872.42 529.4 L872.56 529.4 L872.69 529.4 L872.82 529.4 L872.96 529.4 L873.09 529.4 L873.22 529.4 L873.36 529.4 L873.49 529.4 L873.62 529.4 L873.76 529.4 L873.89 529.4 L874.02 529.4 L874.16 529.4 L874.29 529.4 L874.42 529.4 L874.56 529.4 L874.69 529.4 L874.82 529.4 L874.96 529.4 L875.09 529.4 L875.22 529.4 L875.36 529.4 L875.49 529.4 L875.62 529.4 L875.76 529.4 L875.89 529.4 L876.02 529.4 L876.16 529.4 L876.29 529.4 L876.42 529.4 L876.56 529.4 L876.69 529.4 L876.82 529.4 L876.96 529.4 L877.09 529.4 L877.23 529.4 L877.36 529.4 L877.49 529.4 L877.63 529.4 L877.76 529.4 L877.89 529.4 L878.03 529.4 L878.16 529.4 L878.29 529.4 L878.43 529.4 L878.56 529.4 L878.69 529.4 L878.83 529.4 L878.96 529.4 L879.09 529.4 L879.23 529.4 L879.36 529.4 L879.49 529.4 L879.63 529.4 L879.76 529.4 L879.89 529.4 L880.03 529.4 L880.16 529.4 L880.29 529.4 L880.43 529.4 L880.56 529.4 L880.69 529.4 L880.83 529.4 L880.96 529.4 L881.09 529.4 L881.23 529.4 L881.36 529.4 L881.49 529.4 L881.63 529.4 L881.76 529.4 L881.89 529.4 L882.03 529.4 L882.16 529.4 L882.3 529.4 L882.43 529.4 L882.56 529.4 L882.7 529.4 L882.83 529.4 L882.96 529.4 L883.1 529.4 L883.23 529.4 L883.36 529.4 L883.5 529.4 L883.63 529.4 L883.76 529.4 L883.9 529.4 L884.03 529.4 L884.16 529.4 L884.3 529.4 L884.43 529.4 L884.56 529.4 L884.7 529.4 L884.83 529.4 L884.96 529.4 L885.1 529.4 L885.23 529.4 L885.36 529.4 L885.5 529.4 L885.63 529.4 L885.76 529.4 L885.9 529.4 L886.03 529.4 L886.16 529.4 L886.3 529.4 L886.43 529.4 L886.56 529.4 L886.7 529.4 L886.83 529.4 L886.96 529.4 L887.1 529.4 L887.23 529.4 L887.37 529.4 L887.5 529.4 L887.63 529.4 L887.77 529.4 L887.9 529.4 L888.03 529.4 L888.17 529.4 L888.3 529.4 L888.43 529.4 L888.57 529.4 L888.7 529.4 L888.83 529.4 L888.97 529.4 L889.1 529.4 L889.23 529.4 L889.37 529.4 L889.5 529.4" fill="none" stroke="#2650a8" stroke-width="2.8" stroke-linejoin="round" stroke-linecap="square"/>
<rect x="72.5" y="404" width="833.5" height="250.3" fill="none" stroke="#231f20" stroke-width="3.0"/>
<path d="M89.1 654.3 V647.3 M222.5 654.3 V647.3 M355.9 654.3 V647.3 M489.3 654.3 V647.3 M622.7 654.3 V647.3 M756.1 654.3 V647.3 M889.5 654.3 V647.3 M115.78 654.3 V650.1 M142.46 654.3 V650.1 M169.14 654.3 V650.1 M195.82 654.3 V650.1 M249.18 654.3 V650.1 M275.86 654.3 V650.1 M302.54 654.3 V650.1 M329.22 654.3 V650.1 M382.58 654.3 V650.1 M409.26 654.3 V650.1 M435.94 654.3 V650.1 M462.62 654.3 V650.1 M515.98 654.3 V650.1 M542.66 654.3 V650.1 M569.34 654.3 V650.1 M596.02 654.3 V650.1 M649.38 654.3 V650.1 M676.06 654.3 V650.1 M702.74 654.3 V650.1 M729.42 654.3 V650.1 M782.78 654.3 V650.1 M809.46 654.3 V650.1 M836.14 654.3 V650.1 M862.82 654.3 V650.1" stroke="#231f20" stroke-width="2.7" fill="none"/>
<path d="M89.1 404 V411 M222.5 404 V411 M355.9 404 V411 M489.3 404 V411 M622.7 404 V411 M756.1 404 V411 M889.5 404 V411 M115.78 404 V408.2 M142.46 404 V408.2 M169.14 404 V408.2 M195.82 404 V408.2 M249.18 404 V408.2 M275.86 404 V408.2 M302.54 404 V408.2 M329.22 404 V408.2 M382.58 404 V408.2 M409.26 404 V408.2 M435.94 404 V408.2 M462.62 404 V408.2 M515.98 404 V408.2 M542.66 404 V408.2 M569.34 404 V408.2 M596.02 404 V408.2 M649.38 404 V408.2 M676.06 404 V408.2 M702.74 404 V408.2 M729.42 404 V408.2 M782.78 404 V408.2 M809.46 404 V408.2 M836.14 404 V408.2 M862.82 404 V408.2" stroke="#231f20" stroke-width="2.7" fill="none"/>
<path d="M72.5 649.8 H79.5 M72.5 529.4 H79.5 M72.5 409 H79.5 M72.5 625.72 H76.7 M72.5 601.64 H76.7 M72.5 577.56 H76.7 M72.5 553.48 H76.7 M72.5 505.32 H76.7 M72.5 481.24 H76.7 M72.5 457.16 H76.7 M72.5 433.08 H76.7" stroke="#231f20" stroke-width="2.7" fill="none"/>
<path d="M906 649 H899 M906 583.39 H899 M906 517.78 H899 M906 452.17 H899 M906 632.6 H901.8 M906 616.2 H901.8 M906 599.79 H901.8 M906 566.99 H901.8 M906 550.59 H901.8 M906 534.18 H901.8 M906 501.38 H901.8 M906 484.98 H901.8 M906 468.57 H901.8 M906 435.77 H901.8 M906 419.37 H901.8 M906 402.96 H901.8" stroke="#231f20" stroke-width="2.7" fill="none"/>
<g font-family="Liberation Sans, sans-serif" opacity="0.999">
<g transform="matrix(0.88391 0.001 0.001 0.93701 -134.8916 -208.6777)"><text x="150" y="250" font-size="34" fill="#231f20">(</text></g>
<g transform="matrix(0.88492 0.001 0.001 1.04368 -123.8168 -232.8561)"><text x="150" y="250" font-size="34" fill="#231f20">a</text></g>
<g transform="matrix(0.84358 0.001 0.001 0.94265 -97.9614 -210.1665)"><text x="150" y="250" font-size="34" fill="#231f20">)</text></g>
<g transform="matrix(0.93744 0.001 0.001 1.01875 -105.9086 -130.1089)"><text x="150" y="250" font-size="35" fill="#231f20" stroke="#231f20" stroke-width="0.4">15</text></g>
<g transform="matrix(0.93598 0.001 0.001 0.99211 -105.2776 -41.3729)"><text x="150" y="250" font-size="35" fill="#231f20" stroke="#231f20" stroke-width="0.4">10</text></g>
<g transform="matrix(0.89086 0.001 0.001 0.99523 -80.2095 40.4605)"><text x="150" y="250" font-size="35" fill="#231f20" stroke="#231f20" stroke-width="0.4">5</text></g>
<g transform="matrix(0.99793 0.001 0.001 0.96289 -76.6679 91.4605)"><text x="150" y="250" font-size="35" fill="#231f20" stroke="#231f20" stroke-width="0.4">0</text></g>
<g transform="matrix(0.97741 0.001 0.001 0.97233 -1.0525 89.2475)"><text x="150" y="250" font-size="35" fill="#231f20" stroke="#231f20" stroke-width="0.4">10</text></g>
<g transform="matrix(0.94476 0.001 0.001 0.97442 86.3212 88.8738)"><text x="150" y="250" font-size="35" fill="#231f20" stroke="#231f20" stroke-width="0.4">20</text></g>
<g transform="matrix(0.97647 0.001 0.001 0.96277 163.6752 91.2578)"><text x="150" y="250" font-size="35" fill="#231f20" stroke="#231f20" stroke-width="0.4">30</text></g>
<g transform="matrix(0.97464 0.001 0.001 0.96556 246.6544 90.5741)"><text x="150" y="250" font-size="35" fill="#231f20" stroke="#231f20" stroke-width="0.4">40</text></g>
<g transform="matrix(0.96648 0.001 0.001 0.96329 330.2655 91.0466)"><text x="150" y="250" font-size="35" fill="#231f20" stroke="#231f20" stroke-width="0.4">50</text></g>
<g transform="matrix(0.99946 0.001 0.001 1.14097 -124.5493 -62.4587)"><text x="150" y="250" font-size="35" fill="#231f20" stroke="#231f20" stroke-width="0.4" font-style="italic" transform="rotate(-90 150 250)">f</text></g>
<g transform="matrix(0.89491 0.001 0.001 0.83720 -111.6319 -4.7840)"><text x="150" y="250" font-size="35" fill="#231f20" stroke="#231f20" stroke-width="0.4" transform="rotate(-90 150 250)">(</text></g>
<g transform="matrix(0.97886 0.001 0.001 0.96203 -121.6754 -46.1256)"><text x="150" y="250" font-size="35" fill="#231f20" stroke="#231f20" stroke-width="0.4" transform="rotate(-90 150 250)">GHz</text></g>
<g transform="matrix(0.89635 0.001 0.001 0.82817 -111.9492 -81.2938)"><text x="150" y="250" font-size="35" fill="#231f20" stroke="#231f20" stroke-width="0.4" transform="rotate(-90 150 250)">)</text></g>
<g transform="matrix(1.02949 0.001 0.001 0.99356 77.8928 118.4598)"><text x="150" y="250" font-size="35" fill="#231f20" stroke="#231f20" stroke-width="0.4" font-style="italic">k</text></g>
<g transform="matrix(0.77481 0.001 0.001 0.91429 143.0646 135.9371)"><text x="150" y="250" font-size="35" fill="#231f20" stroke="#231f20" stroke-width="0.4">(</text></g>
<g transform="matrix(1.03303 0.001 0.001 0.97269 114.6588 123.4420)"><text x="150" y="250" font-size="35" fill="#231f20" stroke="#231f20" stroke-width="0.4">μm</text></g>
<g transform="matrix(0.84194 0.001 0.001 0.89272 190.0125 127.5682)"><text x="150" y="250" font-size="20" fill="#231f20" stroke="#231f20" stroke-width="0.2">-1</text></g>
<g transform="matrix(0.82309 0.001 0.001 0.91525 209.6764 135.7377)"><text x="150" y="250" font-size="35" fill="#231f20" stroke="#231f20" stroke-width="0.4">)</text></g>
<g transform="matrix(0.94059 0.001 0.001 0.99680 296.2249 -163.1168)"><text x="150" y="250" font-size="35" fill="#ea1a22" stroke="#ea1a22" stroke-width="0.4" font-style="italic">H</text></g>
<g transform="matrix(0.97093 0.001 0.001 0.92063 317.0153 -137.4407)"><text x="150" y="250" font-size="20" fill="#ea1a22" stroke="#ea1a22" stroke-width="0.2">rev</text></g>
<g transform="matrix(0.94771 0.001 0.001 0.99711 290.5197 -46.1921)"><text x="150" y="250" font-size="35" fill="#2650a8" stroke="#2650a8" stroke-width="0.4" font-style="italic">H</text></g>
<g transform="matrix(0.99668 0.001 0.001 0.90012 308.3195 -15.4258)"><text x="150" y="250" font-size="20" fill="#2650a8" stroke="#2650a8" stroke-width="0.2">stop</text></g>
<g transform="matrix(0.95717 0.001 0.001 0.99371 302.2845 35.7678)"><text x="150" y="250" font-size="35" fill="#231f20" stroke="#231f20" stroke-width="0.4" font-style="italic">H</text></g>
<g transform="matrix(0.91115 0.001 0.001 0.89957 334.8468 66.1442)"><text x="150" y="250" font-size="20" fill="#231f20" stroke="#231f20" stroke-width="0.2">0</text></g>
<g transform="matrix(1.02355 0.001 0.001 0.99208 158.3180 -108.1294)"><text x="150" y="250" font-size="35" fill="#231f20" stroke="#231f20" stroke-width="0.4" font-style="italic">v</text></g>
<g transform="matrix(0.96822 0.001 0.001 0.85662 182.5752 -68.4705)"><text x="150" y="250" font-size="20" fill="#231f20" stroke="#231f20" stroke-width="0.2">g</text></g>
<g transform="matrix(1.19932 0.001 0.001 0.96508 168.1098 -100.9187)"><text x="150" y="250" font-size="35" fill="#231f20" stroke="#231f20" stroke-width="0.4">&gt;</text></g>
<g transform="matrix(0.99297 0.001 0.001 1.00556 227.0401 -111.3649)"><text x="150" y="250" font-size="35" fill="#231f20" stroke="#231f20" stroke-width="0.4">0</text></g>
<g transform="matrix(1.00474 0.001 0.001 0.99249 -44.7014 -19.9327)"><text x="150" y="250" font-size="35" fill="#231f20" stroke="#231f20" stroke-width="0.4" font-style="italic">v</text></g>
<g transform="matrix(0.95668 0.001 0.001 0.81692 -21.4227 30.0666)"><text x="150" y="250" font-size="20" fill="#231f20" stroke="#231f20" stroke-width="0.2">g</text></g>
<g transform="matrix(1.20242 0.001 0.001 0.95806 -38.1224 -10.5661)"><text x="150" y="250" font-size="35" fill="#231f20" stroke="#231f20" stroke-width="0.4">&lt;</text></g>
<g transform="matrix(0.99293 0.001 0.001 0.98020 21.0854 -16.8672)"><text x="150" y="250" font-size="35" fill="#231f20" stroke="#231f20" stroke-width="0.4">0</text></g>
<g transform="matrix(0.97978 0.001 0.001 0.97729 69.3920 0.3855)"><text x="150" y="250" font-size="35" fill="#8c8a8c" stroke="#8c8a8c" stroke-width="0.4" font-style="italic">k</text></g>
<g transform="matrix(1.21843 0.001 0.001 0.80193 59.8252 42.9516)"><text x="150" y="250" font-size="35" fill="#8c8a8c" stroke="#8c8a8c" stroke-width="0.4">=</text></g>
<g transform="matrix(0.98881 0.001 0.001 1.05327 121.5509 -18.8902)"><text x="150" y="250" font-size="35" fill="#8c8a8c" stroke="#8c8a8c" stroke-width="0.4">const</text></g>
<g transform="matrix(0.89671 0.001 0.001 0.93381 375.7060 -207.8064)"><text x="150" y="250" font-size="34" fill="#231f20">(</text></g>
<g transform="matrix(1.08301 0.001 0.001 1.03156 358.6859 -229.8833)"><text x="150" y="250" font-size="34" fill="#231f20">b</text></g>
<g transform="matrix(0.86257 0.001 0.001 0.93793 411.6127 -208.5498)"><text x="150" y="250" font-size="34" fill="#231f20">)</text></g>
<g transform="matrix(0.95399 0.001 0.001 0.95456 441.0535 93.3405)"><text x="150" y="250" font-size="35" fill="#231f20" stroke="#231f20" stroke-width="0.4">100</text></g>
<g transform="matrix(0.97648 0.001 0.001 0.98948 544.3823 84.7943)"><text x="150" y="250" font-size="35" fill="#231f20" stroke="#231f20" stroke-width="0.4">200</text></g>
<g transform="matrix(0.96254 0.001 0.001 0.98705 654.2389 85.4260)"><text x="150" y="250" font-size="35" fill="#231f20" stroke="#231f20" stroke-width="0.4">300</text></g>
<g transform="matrix(0.94451 0.001 0.001 0.99563 480.4897 115.9919)"><text x="150" y="250" font-size="35" fill="#231f20" stroke="#231f20" stroke-width="0.4" font-style="italic">H</text></g>
<g transform="matrix(1.01598 0.001 0.001 0.97532 494.9706 127.2479)"><text x="150" y="250" font-size="20" fill="#231f20" stroke="#231f20" stroke-width="0.2">ext</text></g>
<g transform="matrix(0.85162 0.001 0.001 0.89658 556.8237 138.4093)"><text x="150" y="250" font-size="35" fill="#231f20" stroke="#231f20" stroke-width="0.4">(</text></g>
<g transform="matrix(1.08231 0.001 0.001 1.07471 534.7609 98.1957)"><text x="150" y="250" font-size="35" fill="#231f20" stroke="#231f20" stroke-width="0.4">kA/m</text></g>
<g transform="matrix(0.87323 0.001 0.001 0.89542 654.0863 138.6349)"><text x="150" y="250" font-size="35" fill="#231f20" stroke="#231f20" stroke-width="0.4">)</text></g>
<g transform="matrix(0.97382 0.001 0.001 0.97560 783.0506 -156.0802)"><text x="150" y="250" font-size="35" fill="#231f20" stroke="#231f20" stroke-width="0.4">4</text></g>
<g transform="matrix(0.96572 0.001 0.001 0.99541 784.0289 -125.6169)"><text x="150" y="250" font-size="35" fill="#231f20" stroke="#231f20" stroke-width="0.4">3</text></g>
<g transform="matrix(1.01595 0.001 0.001 0.99125 776.1347 -89.3402)"><text x="150" y="250" font-size="35" fill="#231f20" stroke="#231f20" stroke-width="0.4">2</text></g>
<g transform="matrix(0.99118 0.001 0.001 0.97224 784.7597 -49.3525)"><text x="150" y="250" font-size="35" fill="#231f20" stroke="#231f20" stroke-width="0.4">1</text></g>
<g transform="matrix(1.08420 0.001 0.001 1.00040 765.6651 -21.2203)"><text x="150" y="250" font-size="35" fill="#231f20" stroke="#231f20" stroke-width="0.4">0</text></g>
<g transform="matrix(1.02677 0.001 0.001 0.96419 766.7929 23.0340)"><text x="150" y="250" font-size="35" fill="#231f20" stroke="#231f20" stroke-width="0.4">-1</text></g>
<g transform="matrix(1.01537 0.001 0.001 1.00994 764.6305 48.0479)"><text x="150" y="250" font-size="35" fill="#231f20" stroke="#231f20" stroke-width="0.4">-2</text></g>
<g transform="matrix(0.99591 0.001 0.001 1.03641 849.8473 -9.6311)"><text x="150" y="250" font-size="35" fill="#231f20" stroke="#231f20" stroke-width="0.4" font-style="italic" transform="rotate(-90 150 250)">v</text></g>
<g transform="matrix(0.83077 0.001 0.001 0.94722 881.2462 -3.8776)"><text x="150" y="250" font-size="20" fill="#231f20" stroke="#231f20" stroke-width="0.2" transform="rotate(-90 150 250)">g</text></g>
<g transform="matrix(0.91156 0.001 0.001 0.83852 860.7252 3.9589)"><text x="150" y="250" font-size="35" fill="#231f20" stroke="#231f20" stroke-width="0.4" transform="rotate(-90 150 250)">(</text></g>
<g transform="matrix(0.95381 0.001 0.001 0.94125 856.3560 -33.0375)"><text x="150" y="250" font-size="35" fill="#231f20" stroke="#231f20" stroke-width="0.4" transform="rotate(-90 150 250)">10</text></g>
<g transform="matrix(0.91036 0.001 0.001 0.92422 847.2951 -65.2259)"><text x="150" y="250" font-size="20" fill="#231f20" stroke="#231f20" stroke-width="0.2" transform="rotate(-90 150 250)">2</text></g>
<g transform="matrix(1.06578 0.001 0.001 0.95498 841.8472 -81.6635)"><text x="150" y="250" font-size="35" fill="#231f20" stroke="#231f20" stroke-width="0.4" transform="rotate(-90 150 250)">m/s</text></g>
<g transform="matrix(0.91610 0.001 0.001 0.85204 860.0163 -112.3674)"><text x="150" y="250" font-size="35" fill="#231f20" stroke="#231f20" stroke-width="0.4" transform="rotate(-90 150 250)">)</text></g>
<g transform="matrix(0.94362 0.001 0.001 0.97855 385.6469 -172.5521)"><text x="150" y="250" font-size="35" fill="#231f20" stroke="#231f20" stroke-width="0.4" font-style="italic">H</text></g>
<g transform="matrix(0.92962 0.001 0.001 0.91275 412.9399 -149.1592)"><text x="150" y="250" font-size="20" fill="#231f20" stroke="#231f20" stroke-width="0.2">0</text></g>
<g transform="matrix(0.94114 0.001 0.001 1.02780 467.6147 -51.0559)"><text x="150" y="250" font-size="35" fill="#2650a8" stroke="#2650a8" stroke-width="0.4" font-style="italic">H</text></g>
<g transform="matrix(1.00201 0.001 0.001 0.90206 483.1254 -13.6959)"><text x="150" y="250" font-size="20" fill="#2650a8" stroke="#2650a8" stroke-width="0.2">stop</text></g>
<g transform="matrix(0.95717 0.001 0.001 0.99371 641.2845 16.7678)"><text x="150" y="250" font-size="35" fill="#ea1a22" stroke="#ea1a22" stroke-width="0.4" font-style="italic">H</text></g>
<g transform="matrix(0.97278 0.001 0.001 0.92823 664.6532 39.6447)"><text x="150" y="250" font-size="20" fill="#ea1a22" stroke="#ea1a22" stroke-width="0.2">rev</text></g>
<g transform="matrix(0.90768 0.001 0.001 0.94595 -138.5235 156.5145)"><text x="150" y="250" font-size="34" fill="#231f20">(</text></g>
<g transform="matrix(1.02447 0.001 0.001 1.04860 -145.3781 133.1707)"><text x="150" y="250" font-size="34" fill="#231f20">c</text></g>
<g transform="matrix(0.94144 0.001 0.001 0.94556 -114.8100 156.6179)"><text x="150" y="250" font-size="34" fill="#231f20">)</text></g>
<g transform="matrix(0.87939 0.001 0.001 0.97912 -75.5086 175.6919)"><text x="150" y="250" font-size="35" fill="#2650a8" stroke="#2650a8" stroke-width="0.4">1</text></g>
<g transform="matrix(1.00934 0.001 0.001 0.99470 -100.3425 292.1973)"><text x="150" y="250" font-size="35" fill="#2650a8" stroke="#2650a8" stroke-width="0.4">0</text></g>
<g transform="matrix(0.97686 0.001 0.001 1.00891 -103.0299 409.6285)"><text x="150" y="250" font-size="35" fill="#2650a8" stroke="#2650a8" stroke-width="0.4">-1</text></g>
<g transform="matrix(1.00313 0.001 0.001 0.92826 -124.4476 362.7070)"><text x="150" y="250" font-size="35" fill="#2650a8" stroke="#2650a8" stroke-width="0.4" font-style="italic" transform="rotate(-90 150 250)">H</text></g>
<g transform="matrix(0.98594 0.001 0.001 0.83782 -115.5808 361.2278)"><text x="150" y="250" font-size="20" fill="#2650a8" stroke="#2650a8" stroke-width="0.2" transform="rotate(-90 150 250)">exc</text></g>
<g transform="matrix(0.89567 0.001 0.001 0.83550 -111.8299 325.4788)"><text x="150" y="250" font-size="35" fill="#2650a8" stroke="#2650a8" stroke-width="0.4" transform="rotate(-90 150 250)">(</text></g>
<g transform="matrix(0.97529 0.001 0.001 0.94098 -121.1585 288.2441)"><text x="150" y="250" font-size="35" fill="#2650a8" stroke="#2650a8" stroke-width="0.4" transform="rotate(-90 150 250)">a.u.</text></g>
<g transform="matrix(0.89540 0.001 0.001 0.82683 -111.8037 260.4179)"><text x="150" y="250" font-size="35" fill="#2650a8" stroke="#2650a8" stroke-width="0.4" transform="rotate(-90 150 250)">)</text></g>
<g transform="matrix(1.05348 0.001 0.001 1.01257 753.5064 211.4196)"><text x="150" y="250" font-size="35" fill="#ea1a22" stroke="#ea1a22" stroke-width="0.4">90</text></g>
<g transform="matrix(1.05983 0.001 0.001 0.92680 751.9289 297.7901)"><text x="150" y="250" font-size="35" fill="#ea1a22" stroke="#ea1a22" stroke-width="0.4">60</text></g>
<g transform="matrix(1.05322 0.001 0.001 0.96463 753.0861 354.2250)"><text x="150" y="250" font-size="35" fill="#ea1a22" stroke="#ea1a22" stroke-width="0.4">30</text></g>
<g transform="matrix(0.97388 0.001 0.001 0.92761 765.2675 428.3539)"><text x="150" y="250" font-size="35" fill="#ea1a22" stroke="#ea1a22" stroke-width="0.4">0</text></g>
<g transform="matrix(1.03182 0.001 0.001 0.98725 845.2556 370.9528)"><text x="150" y="250" font-size="35" fill="#ea1a22" stroke="#ea1a22" stroke-width="0.4" font-style="italic" transform="rotate(-90 150 250)">H</text></g>
<g transform="matrix(0.86469 0.001 0.001 0.90303 876.0721 368.4933)"><text x="150" y="250" font-size="20" fill="#ea1a22" stroke="#ea1a22" stroke-width="0.2" transform="rotate(-90 150 250)">ext</text></g>
<g transform="matrix(0.89735 0.001 0.001 0.77260 862.3571 367.8026)"><text x="150" y="250" font-size="35" fill="#ea1a22" stroke="#ea1a22" stroke-width="0.4" transform="rotate(-90 150 250)">(</text></g>
<g transform="matrix(1.06750 0.001 0.001 1.06663 841.2693 282.5621)"><text x="150" y="250" font-size="35" fill="#ea1a22" stroke="#ea1a22" stroke-width="0.4" transform="rotate(-90 150 250)">kA/m</text></g>
<g transform="matrix(0.88664 0.001 0.001 0.89056 863.6081 228.8123)"><text x="150" y="250" font-size="35" fill="#ea1a22" stroke="#ea1a22" stroke-width="0.4" transform="rotate(-90 150 250)">)</text></g>
<g transform="matrix(1.05012 0.001 0.001 0.95685 -79.2715 449.1710)"><text x="150" y="250" font-size="35" fill="#231f20" stroke="#231f20" stroke-width="0.4">0</text></g>
<g transform="matrix(0.99194 0.001 0.001 1.03420 184.8856 430.8968)"><text x="150" y="250" font-size="35" fill="#231f20" stroke="#231f20" stroke-width="0.4">10</text></g>
<g transform="matrix(0.98279 0.001 0.001 1.00793 453.1118 437.3820)"><text x="150" y="250" font-size="35" fill="#231f20" stroke="#231f20" stroke-width="0.4">20</text></g>
<g transform="matrix(0.96335 0.001 0.001 0.92432 723.4994 456.9601)"><text x="150" y="250" font-size="35" fill="#231f20" stroke="#231f20" stroke-width="0.4">30</text></g>
<g transform="matrix(1.25849 0.001 0.001 1.02270 255.3120 463.4912)"><text x="150" y="250" font-size="35" fill="#231f20" stroke="#231f20" stroke-width="0.4" font-style="italic">t</text></g>
<g transform="matrix(0.76148 0.001 0.001 0.89886 349.0845 491.7225)"><text x="150" y="250" font-size="35" fill="#231f20" stroke="#231f20" stroke-width="0.4">(</text></g>
<g transform="matrix(0.92437 0.001 0.001 0.98833 335.4854 472.1296)"><text x="150" y="250" font-size="35" fill="#231f20" stroke="#231f20" stroke-width="0.4">ns</text></g>
<g transform="matrix(0.78216 0.001 0.001 0.89992 393.7390 491.6053)"><text x="150" y="250" font-size="35" fill="#231f20" stroke="#231f20" stroke-width="0.4">)</text></g>
</g>
</svg>
</body></html>
